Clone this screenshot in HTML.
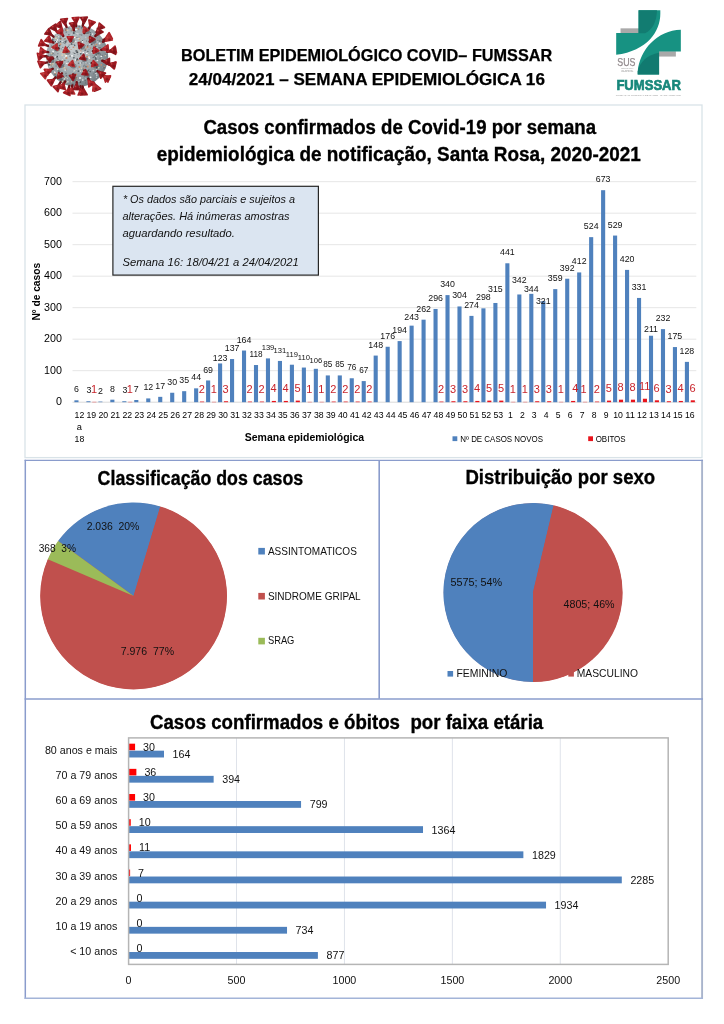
<!DOCTYPE html>
<html lang="pt-BR"><head><meta charset="utf-8"><title>Boletim Epidemiológico COVID – FUMSSAR</title>
<style>
html,body{margin:0;padding:0;background:#fff;}
svg{display:block;font-family:'Liberation Sans', sans-serif;}
svg text{font-family:"Liberation Sans",sans-serif;}
</style></head><body>
<svg width="724" height="1024" viewBox="0 0 724 1024">
<defs><radialGradient id="vg" cx="0.4" cy="0.38" r="0.7"><stop offset="0" stop-color="#c6cccf"/><stop offset="0.6" stop-color="#9ca6ab"/><stop offset="1" stop-color="#6b757a"/></radialGradient></defs>
<rect width="724" height="1024" fill="#fff"/>
<g id="header">
<text xml:space="preserve" x="181.0" y="61.3" font-size="16.1" font-weight="bold" textLength="371.3" lengthAdjust="spacingAndGlyphs" stroke="#000" stroke-width="0.25">BOLETIM EPIDEMIOLÓGICO COVID– FUMSSAR</text>
<text xml:space="preserve" x="188.8" y="84.8" font-size="16.1" font-weight="bold" textLength="356.1" lengthAdjust="spacingAndGlyphs" stroke="#000" stroke-width="0.25">24/04/2021 – SEMANA EPIDEMIOLÓGICA 16</text>
</g>
<g id="virus">
<circle cx="77.2" cy="56.2" r="31.0" fill="url(#vg)"/>
<circle cx="55.7" cy="62.8" r="0.70" fill="#454c51"/>
<circle cx="85.2" cy="45.8" r="0.71" fill="#8a9195"/>
<circle cx="67.4" cy="47.7" r="0.62" fill="#454c51"/>
<circle cx="100.0" cy="70.8" r="0.47" fill="#9aa5a9"/>
<circle cx="106.6" cy="52.9" r="0.86" fill="#9aa5a9"/>
<circle cx="63.3" cy="37.0" r="0.48" fill="#8a9195"/>
<circle cx="104.7" cy="62.5" r="0.47" fill="#ffffff"/>
<circle cx="57.8" cy="60.7" r="0.74" fill="#dccfae"/>
<circle cx="63.7" cy="39.8" r="0.50" fill="#9aa5a9"/>
<circle cx="66.4" cy="40.4" r="1.00" fill="#8a9195"/>
<circle cx="90.8" cy="34.9" r="0.87" fill="#565d62"/>
<circle cx="72.0" cy="55.8" r="0.87" fill="#ffffff"/>
<circle cx="54.8" cy="72.4" r="0.49" fill="#c98b6a"/>
<circle cx="101.9" cy="58.8" r="0.57" fill="#dccfae"/>
<circle cx="94.6" cy="45.2" r="0.68" fill="#c98b6a"/>
<circle cx="64.9" cy="50.8" r="0.60" fill="#9aa5a9"/>
<circle cx="92.0" cy="65.2" r="0.87" fill="#c98b6a"/>
<circle cx="88.2" cy="66.3" r="0.46" fill="#eef0f0"/>
<circle cx="56.7" cy="60.8" r="0.76" fill="#9aa5a9"/>
<circle cx="64.8" cy="60.5" r="0.68" fill="#6c7479"/>
<circle cx="63.1" cy="68.8" r="0.45" fill="#dccfae"/>
<circle cx="96.7" cy="33.8" r="0.62" fill="#ffffff"/>
<circle cx="87.5" cy="47.1" r="1.00" fill="#c98b6a"/>
<circle cx="58.9" cy="42.5" r="0.99" fill="#7d8589"/>
<circle cx="80.7" cy="71.1" r="0.63" fill="#ffffff"/>
<circle cx="74.9" cy="64.0" r="0.56" fill="#eef0f0"/>
<circle cx="74.8" cy="53.4" r="0.65" fill="#565d62"/>
<circle cx="49.0" cy="64.7" r="0.91" fill="#454c51"/>
<circle cx="89.5" cy="70.3" r="0.53" fill="#9aa5a9"/>
<circle cx="100.0" cy="41.4" r="0.85" fill="#dccfae"/>
<circle cx="90.2" cy="76.2" r="0.56" fill="#8a9195"/>
<circle cx="104.1" cy="47.5" r="0.49" fill="#ffffff"/>
<circle cx="86.7" cy="59.1" r="0.98" fill="#8a9195"/>
<circle cx="79.0" cy="81.4" r="0.68" fill="#c3c9cc"/>
<circle cx="94.6" cy="44.3" r="0.55" fill="#8a9195"/>
<circle cx="75.7" cy="48.5" r="0.71" fill="#dccfae"/>
<circle cx="63.8" cy="36.8" r="0.60" fill="#eef0f0"/>
<circle cx="89.0" cy="49.5" r="0.49" fill="#7d8589"/>
<circle cx="64.5" cy="64.1" r="0.55" fill="#7d8589"/>
<circle cx="61.8" cy="72.9" r="0.50" fill="#6c7479"/>
<circle cx="90.2" cy="71.6" r="0.81" fill="#565d62"/>
<circle cx="68.9" cy="34.8" r="0.77" fill="#6c7479"/>
<circle cx="95.6" cy="46.6" r="0.84" fill="#565d62"/>
<circle cx="81.5" cy="55.2" r="0.49" fill="#9aa5a9"/>
<circle cx="92.5" cy="63.1" r="1.00" fill="#6c7479"/>
<circle cx="97.0" cy="66.3" r="0.95" fill="#7d8589"/>
<circle cx="75.2" cy="31.1" r="0.64" fill="#565d62"/>
<circle cx="65.9" cy="30.0" r="0.97" fill="#c98b6a"/>
<circle cx="98.1" cy="60.2" r="0.79" fill="#7d8589"/>
<circle cx="60.2" cy="71.7" r="0.49" fill="#ffffff"/>
<circle cx="85.8" cy="61.7" r="0.93" fill="#c3c9cc"/>
<circle cx="74.6" cy="37.6" r="0.70" fill="#ffffff"/>
<circle cx="55.7" cy="61.3" r="0.86" fill="#8a9195"/>
<circle cx="100.1" cy="60.5" r="0.46" fill="#454c51"/>
<circle cx="86.9" cy="53.5" r="0.81" fill="#ffffff"/>
<circle cx="48.8" cy="58.6" r="0.62" fill="#565d62"/>
<circle cx="71.3" cy="44.0" r="0.86" fill="#6c7479"/>
<circle cx="61.3" cy="80.4" r="0.94" fill="#454c51"/>
<circle cx="65.8" cy="77.9" r="0.80" fill="#dccfae"/>
<circle cx="85.8" cy="31.6" r="0.93" fill="#dccfae"/>
<circle cx="60.0" cy="71.4" r="0.57" fill="#565d62"/>
<circle cx="89.0" cy="69.5" r="0.84" fill="#7d8589"/>
<circle cx="92.2" cy="51.3" r="0.51" fill="#6c7479"/>
<circle cx="48.7" cy="61.4" r="0.66" fill="#c98b6a"/>
<circle cx="52.7" cy="53.1" r="0.70" fill="#ffffff"/>
<circle cx="82.0" cy="58.6" r="0.47" fill="#ffffff"/>
<circle cx="71.4" cy="34.2" r="0.81" fill="#c3c9cc"/>
<circle cx="55.0" cy="46.8" r="0.70" fill="#c98b6a"/>
<circle cx="104.3" cy="60.4" r="0.88" fill="#dccfae"/>
<circle cx="85.9" cy="27.7" r="0.70" fill="#eef0f0"/>
<circle cx="60.5" cy="38.5" r="0.98" fill="#565d62"/>
<circle cx="71.8" cy="43.9" r="0.59" fill="#454c51"/>
<circle cx="71.4" cy="30.7" r="0.84" fill="#8a9195"/>
<circle cx="84.0" cy="70.4" r="0.75" fill="#565d62"/>
<circle cx="97.3" cy="49.2" r="0.67" fill="#6c7479"/>
<circle cx="84.7" cy="28.6" r="0.68" fill="#eef0f0"/>
<circle cx="91.8" cy="44.5" r="0.70" fill="#454c51"/>
<circle cx="57.0" cy="35.8" r="0.75" fill="#c98b6a"/>
<circle cx="65.0" cy="38.7" r="0.71" fill="#565d62"/>
<circle cx="69.3" cy="45.1" r="0.96" fill="#9aa5a9"/>
<circle cx="87.8" cy="66.6" r="0.99" fill="#c98b6a"/>
<circle cx="99.0" cy="53.1" r="0.59" fill="#565d62"/>
<circle cx="76.5" cy="52.5" r="0.50" fill="#8a9195"/>
<circle cx="56.4" cy="64.3" r="0.72" fill="#c3c9cc"/>
<circle cx="103.8" cy="61.0" r="0.69" fill="#eef0f0"/>
<circle cx="98.6" cy="61.0" r="0.88" fill="#9aa5a9"/>
<circle cx="84.6" cy="65.2" r="0.95" fill="#8a9195"/>
<circle cx="52.6" cy="53.4" r="0.97" fill="#454c51"/>
<circle cx="47.9" cy="57.6" r="0.87" fill="#eef0f0"/>
<circle cx="56.3" cy="64.6" r="0.80" fill="#8a9195"/>
<circle cx="49.9" cy="52.3" r="0.59" fill="#8a9195"/>
<circle cx="63.3" cy="30.3" r="0.56" fill="#ffffff"/>
<circle cx="94.7" cy="32.3" r="0.60" fill="#8a9195"/>
<circle cx="57.9" cy="56.5" r="0.73" fill="#eef0f0"/>
<circle cx="73.2" cy="53.1" r="0.73" fill="#7d8589"/>
<circle cx="55.4" cy="71.9" r="0.52" fill="#ffffff"/>
<circle cx="87.4" cy="63.0" r="0.70" fill="#8a9195"/>
<circle cx="100.8" cy="43.4" r="0.60" fill="#c98b6a"/>
<circle cx="66.6" cy="58.0" r="0.95" fill="#c98b6a"/>
<circle cx="103.7" cy="44.9" r="0.62" fill="#8a9195"/>
<circle cx="85.7" cy="78.3" r="0.52" fill="#c3c9cc"/>
<circle cx="78.0" cy="51.7" r="0.54" fill="#dccfae"/>
<circle cx="93.2" cy="57.4" r="0.58" fill="#565d62"/>
<circle cx="55.9" cy="56.4" r="0.52" fill="#ffffff"/>
<circle cx="62.2" cy="55.2" r="0.84" fill="#dccfae"/>
<circle cx="80.5" cy="53.0" r="0.68" fill="#9aa5a9"/>
<circle cx="65.4" cy="54.0" r="0.93" fill="#dccfae"/>
<circle cx="63.5" cy="53.2" r="0.92" fill="#dccfae"/>
<circle cx="55.9" cy="38.2" r="0.95" fill="#dccfae"/>
<circle cx="64.9" cy="43.4" r="0.62" fill="#6c7479"/>
<circle cx="65.7" cy="82.7" r="0.88" fill="#dccfae"/>
<circle cx="80.4" cy="65.0" r="0.52" fill="#dccfae"/>
<circle cx="93.1" cy="66.0" r="0.91" fill="#c98b6a"/>
<circle cx="53.6" cy="68.8" r="0.56" fill="#6c7479"/>
<circle cx="58.6" cy="36.8" r="0.56" fill="#eef0f0"/>
<circle cx="65.4" cy="30.0" r="0.51" fill="#565d62"/>
<circle cx="51.0" cy="55.3" r="1.00" fill="#8a9195"/>
<circle cx="90.6" cy="32.8" r="0.51" fill="#454c51"/>
<circle cx="98.9" cy="61.4" r="0.95" fill="#8a9195"/>
<circle cx="64.2" cy="57.7" r="0.56" fill="#eef0f0"/>
<circle cx="93.3" cy="31.0" r="0.50" fill="#9aa5a9"/>
<circle cx="104.3" cy="67.3" r="0.49" fill="#454c51"/>
<circle cx="92.6" cy="66.9" r="0.73" fill="#c98b6a"/>
<circle cx="56.1" cy="66.1" r="0.80" fill="#7d8589"/>
<circle cx="90.2" cy="59.6" r="0.70" fill="#c98b6a"/>
<circle cx="75.9" cy="37.1" r="0.78" fill="#dccfae"/>
<circle cx="99.4" cy="71.2" r="0.94" fill="#565d62"/>
<circle cx="85.3" cy="32.3" r="0.97" fill="#9aa5a9"/>
<circle cx="65.3" cy="50.6" r="0.99" fill="#ffffff"/>
<circle cx="82.4" cy="41.8" r="0.86" fill="#eef0f0"/>
<circle cx="81.9" cy="29.5" r="0.52" fill="#c98b6a"/>
<circle cx="66.6" cy="75.5" r="0.87" fill="#565d62"/>
<circle cx="79.0" cy="37.1" r="0.49" fill="#6c7479"/>
<circle cx="66.0" cy="73.5" r="0.94" fill="#7d8589"/>
<circle cx="105.7" cy="54.5" r="0.58" fill="#7d8589"/>
<circle cx="100.3" cy="47.8" r="0.57" fill="#565d62"/>
<circle cx="66.5" cy="63.3" r="0.66" fill="#eef0f0"/>
<circle cx="101.3" cy="56.2" r="0.87" fill="#eef0f0"/>
<circle cx="81.7" cy="55.6" r="0.51" fill="#ffffff"/>
<circle cx="78.8" cy="76.2" r="0.48" fill="#8a9195"/>
<circle cx="83.4" cy="73.6" r="0.59" fill="#eef0f0"/>
<circle cx="74.4" cy="73.5" r="0.73" fill="#8a9195"/>
<circle cx="99.4" cy="51.6" r="0.80" fill="#eef0f0"/>
<circle cx="80.2" cy="48.5" r="0.82" fill="#ffffff"/>
<circle cx="95.2" cy="51.0" r="0.66" fill="#6c7479"/>
<circle cx="104.5" cy="51.0" r="0.79" fill="#8a9195"/>
<circle cx="104.5" cy="66.7" r="0.61" fill="#c98b6a"/>
<circle cx="63.7" cy="66.2" r="0.61" fill="#8a9195"/>
<circle cx="64.6" cy="37.6" r="0.81" fill="#c3c9cc"/>
<circle cx="77.1" cy="51.3" r="0.77" fill="#dccfae"/>
<circle cx="64.3" cy="41.9" r="0.66" fill="#9aa5a9"/>
<circle cx="98.0" cy="40.6" r="0.77" fill="#7d8589"/>
<circle cx="74.3" cy="39.5" r="0.69" fill="#dccfae"/>
<circle cx="47.8" cy="60.4" r="0.47" fill="#dccfae"/>
<circle cx="99.2" cy="71.9" r="0.53" fill="#454c51"/>
<circle cx="91.6" cy="52.5" r="0.48" fill="#eef0f0"/>
<circle cx="68.2" cy="61.3" r="0.65" fill="#7d8589"/>
<circle cx="87.4" cy="71.2" r="0.82" fill="#6c7479"/>
<circle cx="62.4" cy="60.4" r="0.83" fill="#ffffff"/>
<circle cx="60.2" cy="75.8" r="0.97" fill="#6c7479"/>
<circle cx="75.8" cy="41.6" r="0.73" fill="#eef0f0"/>
<circle cx="69.5" cy="76.2" r="0.60" fill="#565d62"/>
<circle cx="57.5" cy="39.9" r="0.55" fill="#ffffff"/>
<circle cx="74.6" cy="70.7" r="0.73" fill="#dccfae"/>
<circle cx="69.6" cy="45.3" r="0.47" fill="#9aa5a9"/>
<circle cx="91.7" cy="62.0" r="0.46" fill="#c98b6a"/>
<circle cx="91.0" cy="59.6" r="0.49" fill="#c3c9cc"/>
<circle cx="98.4" cy="69.0" r="0.58" fill="#8a9195"/>
<circle cx="98.0" cy="53.8" r="0.57" fill="#565d62"/>
<circle cx="62.8" cy="77.8" r="0.89" fill="#eef0f0"/>
<circle cx="51.4" cy="65.1" r="0.69" fill="#dccfae"/>
<circle cx="76.9" cy="37.4" r="0.65" fill="#6c7479"/>
<circle cx="60.2" cy="31.6" r="0.61" fill="#565d62"/>
<circle cx="78.7" cy="28.9" r="0.69" fill="#6c7479"/>
<circle cx="70.8" cy="63.1" r="0.49" fill="#565d62"/>
<circle cx="96.8" cy="67.5" r="0.90" fill="#454c51"/>
<circle cx="50.6" cy="62.4" r="0.49" fill="#7d8589"/>
<circle cx="82.8" cy="80.0" r="0.83" fill="#eef0f0"/>
<circle cx="50.9" cy="57.1" r="0.61" fill="#565d62"/>
<circle cx="88.4" cy="70.3" r="0.65" fill="#565d62"/>
<circle cx="95.9" cy="73.2" r="0.78" fill="#ffffff"/>
<circle cx="97.6" cy="41.9" r="0.69" fill="#c3c9cc"/>
<circle cx="82.6" cy="40.5" r="0.57" fill="#565d62"/>
<circle cx="102.4" cy="51.0" r="0.59" fill="#8a9195"/>
<circle cx="65.5" cy="70.1" r="0.82" fill="#565d62"/>
<circle cx="54.1" cy="42.6" r="0.65" fill="#ffffff"/>
<circle cx="68.1" cy="63.7" r="0.76" fill="#ffffff"/>
<circle cx="88.9" cy="79.7" r="0.90" fill="#c3c9cc"/>
<circle cx="78.5" cy="63.3" r="0.76" fill="#6c7479"/>
<circle cx="100.9" cy="51.1" r="0.49" fill="#c98b6a"/>
<circle cx="51.7" cy="48.5" r="0.63" fill="#eef0f0"/>
<circle cx="75.8" cy="65.9" r="0.50" fill="#565d62"/>
<circle cx="69.6" cy="47.7" r="0.68" fill="#9aa5a9"/>
<circle cx="72.3" cy="35.8" r="0.64" fill="#8a9195"/>
<circle cx="60.0" cy="60.7" r="0.82" fill="#565d62"/>
<circle cx="55.2" cy="57.1" r="0.84" fill="#eef0f0"/>
<circle cx="93.8" cy="46.4" r="0.64" fill="#9aa5a9"/>
<circle cx="95.7" cy="56.6" r="0.94" fill="#eef0f0"/>
<circle cx="100.4" cy="49.9" r="0.65" fill="#8a9195"/>
<circle cx="87.1" cy="56.8" r="0.95" fill="#c98b6a"/>
<circle cx="77.5" cy="68.3" r="0.66" fill="#9aa5a9"/>
<circle cx="83.9" cy="68.0" r="0.74" fill="#c98b6a"/>
<circle cx="72.9" cy="84.2" r="0.62" fill="#454c51"/>
<circle cx="95.4" cy="72.2" r="0.95" fill="#6c7479"/>
<circle cx="77.3" cy="52.3" r="0.95" fill="#454c51"/>
<circle cx="86.9" cy="58.4" r="0.65" fill="#6c7479"/>
<circle cx="57.4" cy="43.9" r="0.78" fill="#454c51"/>
<circle cx="79.3" cy="69.0" r="0.67" fill="#c3c9cc"/>
<circle cx="101.8" cy="40.7" r="0.75" fill="#9aa5a9"/>
<circle cx="85.7" cy="37.2" r="0.72" fill="#c3c9cc"/>
<circle cx="53.1" cy="73.1" r="0.75" fill="#9aa5a9"/>
<circle cx="97.3" cy="50.6" r="0.67" fill="#dccfae"/>
<circle cx="79.4" cy="67.0" r="0.99" fill="#c98b6a"/>
<circle cx="84.5" cy="30.8" r="0.81" fill="#7d8589"/>
<circle cx="77.4" cy="59.3" r="0.95" fill="#454c51"/>
<circle cx="63.0" cy="60.8" r="0.78" fill="#c98b6a"/>
<circle cx="83.8" cy="66.1" r="0.53" fill="#565d62"/>
<circle cx="99.9" cy="41.4" r="0.80" fill="#6c7479"/>
<circle cx="92.7" cy="55.5" r="0.48" fill="#8a9195"/>
<circle cx="65.8" cy="50.7" r="0.90" fill="#dccfae"/>
<circle cx="92.7" cy="33.8" r="0.64" fill="#eef0f0"/>
<circle cx="60.8" cy="41.8" r="0.83" fill="#454c51"/>
<circle cx="99.8" cy="69.1" r="0.92" fill="#8a9195"/>
<circle cx="68.4" cy="81.4" r="0.56" fill="#c98b6a"/>
<circle cx="66.2" cy="32.0" r="0.56" fill="#454c51"/>
<circle cx="56.2" cy="50.3" r="0.97" fill="#6c7479"/>
<circle cx="93.7" cy="52.4" r="0.49" fill="#c98b6a"/>
<circle cx="70.2" cy="75.5" r="0.65" fill="#eef0f0"/>
<circle cx="73.4" cy="47.2" r="0.82" fill="#c98b6a"/>
<circle cx="76.6" cy="29.6" r="0.81" fill="#eef0f0"/>
<circle cx="95.6" cy="57.6" r="0.58" fill="#454c51"/>
<circle cx="58.5" cy="48.2" r="0.92" fill="#7d8589"/>
<circle cx="91.5" cy="35.1" r="0.53" fill="#ffffff"/>
<circle cx="57.0" cy="35.3" r="0.97" fill="#c3c9cc"/>
<circle cx="77.9" cy="33.8" r="0.59" fill="#eef0f0"/>
<circle cx="85.2" cy="80.7" r="0.62" fill="#565d62"/>
<circle cx="74.1" cy="76.6" r="0.63" fill="#9aa5a9"/>
<circle cx="81.4" cy="48.1" r="0.79" fill="#6c7479"/>
<circle cx="93.4" cy="73.8" r="0.55" fill="#6c7479"/>
<circle cx="54.7" cy="72.0" r="0.84" fill="#ffffff"/>
<circle cx="81.6" cy="59.4" r="0.69" fill="#eef0f0"/>
<circle cx="79.5" cy="38.8" r="0.96" fill="#c98b6a"/>
<circle cx="86.0" cy="66.7" r="0.90" fill="#6c7479"/>
<circle cx="64.1" cy="67.6" r="0.79" fill="#c98b6a"/>
<circle cx="73.8" cy="32.9" r="0.99" fill="#565d62"/>
<circle cx="83.2" cy="32.5" r="0.74" fill="#ffffff"/>
<circle cx="76.3" cy="69.2" r="0.81" fill="#c3c9cc"/>
<circle cx="91.7" cy="67.6" r="0.63" fill="#8a9195"/>
<circle cx="74.6" cy="65.5" r="0.59" fill="#6c7479"/>
<circle cx="61.3" cy="52.2" r="0.64" fill="#dccfae"/>
<circle cx="65.9" cy="56.2" r="0.99" fill="#dccfae"/>
<circle cx="51.9" cy="53.6" r="0.76" fill="#dccfae"/>
<circle cx="101.3" cy="60.3" r="0.52" fill="#eef0f0"/>
<circle cx="58.0" cy="58.9" r="0.63" fill="#565d62"/>
<circle cx="93.5" cy="48.4" r="0.94" fill="#454c51"/>
<circle cx="52.7" cy="63.8" r="0.95" fill="#dccfae"/>
<circle cx="55.5" cy="50.1" r="0.95" fill="#8a9195"/>
<circle cx="89.9" cy="78.8" r="0.78" fill="#565d62"/>
<circle cx="96.8" cy="75.2" r="0.83" fill="#c3c9cc"/>
<circle cx="60.1" cy="76.0" r="0.91" fill="#565d62"/>
<circle cx="86.0" cy="76.7" r="0.70" fill="#eef0f0"/>
<circle cx="55.3" cy="71.4" r="0.53" fill="#9aa5a9"/>
<circle cx="78.3" cy="28.5" r="0.79" fill="#c98b6a"/>
<circle cx="60.5" cy="35.9" r="0.56" fill="#6c7479"/>
<circle cx="66.1" cy="58.5" r="0.52" fill="#c98b6a"/>
<circle cx="62.7" cy="65.9" r="0.60" fill="#6c7479"/>
<circle cx="61.4" cy="49.0" r="0.88" fill="#9aa5a9"/>
<circle cx="72.5" cy="29.9" r="0.98" fill="#c98b6a"/>
<circle cx="60.5" cy="44.1" r="0.94" fill="#c98b6a"/>
<circle cx="96.5" cy="44.5" r="0.86" fill="#c98b6a"/>
<circle cx="47.3" cy="58.9" r="0.90" fill="#c98b6a"/>
<circle cx="84.7" cy="63.0" r="0.63" fill="#8a9195"/>
<circle cx="57.9" cy="53.7" r="0.63" fill="#7d8589"/>
<circle cx="101.3" cy="64.8" r="0.85" fill="#c98b6a"/>
<circle cx="55.9" cy="41.2" r="0.94" fill="#c3c9cc"/>
<circle cx="87.8" cy="45.8" r="0.58" fill="#454c51"/>
<circle cx="97.9" cy="35.0" r="0.83" fill="#454c51"/>
<circle cx="62.7" cy="53.8" r="0.81" fill="#c3c9cc"/>
<circle cx="103.4" cy="45.9" r="0.65" fill="#9aa5a9"/>
<circle cx="55.6" cy="49.7" r="0.57" fill="#6c7479"/>
<circle cx="76.7" cy="33.6" r="0.50" fill="#eef0f0"/>
<circle cx="80.0" cy="46.0" r="0.77" fill="#8a9195"/>
<circle cx="61.5" cy="60.9" r="0.46" fill="#c3c9cc"/>
<circle cx="86.6" cy="73.8" r="0.90" fill="#454c51"/>
<circle cx="62.9" cy="67.0" r="0.58" fill="#ffffff"/>
<circle cx="70.2" cy="75.2" r="0.62" fill="#565d62"/>
<circle cx="48.1" cy="56.5" r="0.93" fill="#454c51"/>
<circle cx="85.4" cy="82.8" r="0.56" fill="#7d8589"/>
<circle cx="86.6" cy="41.0" r="0.46" fill="#454c51"/>
<circle cx="60.6" cy="37.3" r="0.56" fill="#8a9195"/>
<circle cx="68.3" cy="46.5" r="0.81" fill="#7d8589"/>
<circle cx="67.8" cy="81.7" r="0.93" fill="#c3c9cc"/>
<circle cx="74.7" cy="45.5" r="0.68" fill="#454c51"/>
<circle cx="90.7" cy="80.6" r="0.84" fill="#eef0f0"/>
<circle cx="81.4" cy="68.3" r="0.73" fill="#dccfae"/>
<circle cx="72.8" cy="71.3" r="0.74" fill="#9aa5a9"/>
<circle cx="93.3" cy="70.6" r="0.94" fill="#c3c9cc"/>
<circle cx="83.2" cy="69.2" r="0.80" fill="#6c7479"/>
<circle cx="102.4" cy="72.2" r="0.95" fill="#454c51"/>
<circle cx="102.8" cy="69.0" r="0.78" fill="#7d8589"/>
<circle cx="74.0" cy="70.9" r="0.50" fill="#ffffff"/>
<circle cx="71.5" cy="81.7" r="0.55" fill="#dccfae"/>
<circle cx="76.7" cy="51.1" r="0.99" fill="#6c7479"/>
<circle cx="97.2" cy="60.5" r="0.66" fill="#ffffff"/>
<circle cx="96.4" cy="47.1" r="0.49" fill="#6c7479"/>
<circle cx="82.0" cy="27.9" r="0.81" fill="#565d62"/>
<circle cx="81.6" cy="35.0" r="0.90" fill="#8a9195"/>
<circle cx="57.4" cy="33.9" r="0.55" fill="#8a9195"/>
<circle cx="79.5" cy="44.2" r="0.69" fill="#ffffff"/>
<circle cx="66.3" cy="36.8" r="0.88" fill="#c3c9cc"/>
<circle cx="80.9" cy="42.1" r="0.75" fill="#454c51"/>
<circle cx="91.2" cy="37.5" r="0.47" fill="#c3c9cc"/>
<circle cx="56.3" cy="41.7" r="0.70" fill="#ffffff"/>
<circle cx="89.7" cy="44.5" r="0.46" fill="#ffffff"/>
<circle cx="57.4" cy="56.7" r="0.85" fill="#454c51"/>
<circle cx="80.5" cy="52.1" r="0.95" fill="#eef0f0"/>
<circle cx="57.1" cy="46.9" r="0.79" fill="#dccfae"/>
<circle cx="95.7" cy="62.7" r="0.90" fill="#565d62"/>
<circle cx="75.3" cy="29.7" r="0.72" fill="#ffffff"/>
<circle cx="64.6" cy="38.8" r="0.59" fill="#c98b6a"/>
<circle cx="90.6" cy="77.3" r="0.88" fill="#ffffff"/>
<circle cx="95.1" cy="63.4" r="0.83" fill="#565d62"/>
<circle cx="68.8" cy="28.0" r="0.72" fill="#6c7479"/>
<circle cx="79.3" cy="26.4" r="0.86" fill="#6c7479"/>
<circle cx="47.6" cy="52.1" r="0.58" fill="#7d8589"/>
<circle cx="85.9" cy="49.0" r="0.76" fill="#c98b6a"/>
<circle cx="48.6" cy="61.3" r="0.82" fill="#7d8589"/>
<circle cx="71.1" cy="27.1" r="0.58" fill="#ffffff"/>
<circle cx="76.7" cy="78.5" r="0.68" fill="#dccfae"/>
<circle cx="89.5" cy="63.6" r="0.64" fill="#c3c9cc"/>
<circle cx="100.5" cy="53.4" r="0.54" fill="#7d8589"/>
<circle cx="51.4" cy="40.9" r="0.76" fill="#565d62"/>
<circle cx="101.3" cy="41.3" r="0.70" fill="#6c7479"/>
<circle cx="55.6" cy="73.4" r="0.66" fill="#c98b6a"/>
<circle cx="95.7" cy="62.1" r="0.55" fill="#dccfae"/>
<circle cx="65.6" cy="52.5" r="0.67" fill="#dccfae"/>
<circle cx="55.4" cy="41.6" r="0.70" fill="#454c51"/>
<circle cx="102.0" cy="55.2" r="0.56" fill="#454c51"/>
<circle cx="71.2" cy="61.6" r="0.65" fill="#c3c9cc"/>
<circle cx="76.6" cy="60.2" r="0.86" fill="#6c7479"/>
<circle cx="54.6" cy="54.5" r="0.84" fill="#9aa5a9"/>
<circle cx="75.1" cy="74.1" r="0.85" fill="#6c7479"/>
<circle cx="79.1" cy="45.2" r="0.85" fill="#dccfae"/>
<circle cx="80.8" cy="53.8" r="0.91" fill="#565d62"/>
<circle cx="50.8" cy="64.8" r="0.63" fill="#c98b6a"/>
<circle cx="80.0" cy="34.7" r="0.62" fill="#7d8589"/>
<circle cx="60.8" cy="43.0" r="0.53" fill="#dccfae"/>
<circle cx="72.8" cy="53.2" r="0.68" fill="#c3c9cc"/>
<circle cx="52.4" cy="59.6" r="0.84" fill="#8a9195"/>
<circle cx="75.5" cy="81.8" r="0.66" fill="#9aa5a9"/>
<circle cx="97.2" cy="37.4" r="0.84" fill="#8a9195"/>
<circle cx="61.7" cy="66.7" r="0.57" fill="#565d62"/>
<circle cx="72.6" cy="73.2" r="0.53" fill="#dccfae"/>
<circle cx="92.2" cy="35.0" r="0.76" fill="#454c51"/>
<circle cx="87.9" cy="28.5" r="0.81" fill="#c3c9cc"/>
<circle cx="102.6" cy="67.5" r="0.83" fill="#8a9195"/>
<circle cx="62.5" cy="30.8" r="0.58" fill="#565d62"/>
<circle cx="71.1" cy="49.5" r="0.52" fill="#c98b6a"/>
<circle cx="56.2" cy="57.1" r="0.61" fill="#565d62"/>
<circle cx="73.1" cy="42.6" r="0.56" fill="#c98b6a"/>
<circle cx="79.2" cy="38.5" r="0.74" fill="#dccfae"/>
<circle cx="75.9" cy="27.6" r="0.71" fill="#6c7479"/>
<circle cx="76.0" cy="83.9" r="0.84" fill="#c3c9cc"/>
<circle cx="95.8" cy="58.9" r="0.95" fill="#565d62"/>
<circle cx="90.6" cy="48.0" r="0.72" fill="#c98b6a"/>
<circle cx="59.5" cy="45.6" r="0.94" fill="#565d62"/>
<circle cx="82.3" cy="58.7" r="0.94" fill="#565d62"/>
<circle cx="63.1" cy="50.0" r="0.94" fill="#9aa5a9"/>
<circle cx="65.5" cy="41.7" r="0.98" fill="#565d62"/>
<circle cx="62.4" cy="73.5" r="0.87" fill="#dccfae"/>
<circle cx="60.7" cy="39.2" r="0.79" fill="#c98b6a"/>
<circle cx="84.4" cy="59.3" r="0.93" fill="#454c51"/>
<circle cx="56.1" cy="75.6" r="0.89" fill="#7d8589"/>
<circle cx="70.8" cy="41.8" r="0.65" fill="#454c51"/>
<circle cx="88.7" cy="54.5" r="0.60" fill="#dccfae"/>
<circle cx="76.5" cy="70.3" r="0.45" fill="#8a9195"/>
<circle cx="59.0" cy="51.1" r="0.75" fill="#dccfae"/>
<circle cx="92.5" cy="34.8" r="0.79" fill="#eef0f0"/>
<circle cx="51.8" cy="46.0" r="0.60" fill="#565d62"/>
<circle cx="80.5" cy="58.7" r="0.83" fill="#dccfae"/>
<circle cx="65.7" cy="29.0" r="0.54" fill="#6c7479"/>
<circle cx="62.0" cy="41.6" r="0.61" fill="#ffffff"/>
<circle cx="61.5" cy="65.5" r="0.74" fill="#9aa5a9"/>
<circle cx="78.4" cy="71.2" r="0.84" fill="#565d62"/>
<circle cx="99.6" cy="43.4" r="0.99" fill="#eef0f0"/>
<circle cx="88.9" cy="30.4" r="0.51" fill="#c3c9cc"/>
<circle cx="52.0" cy="64.1" r="0.47" fill="#454c51"/>
<circle cx="63.2" cy="42.8" r="0.48" fill="#454c51"/>
<circle cx="76.7" cy="77.6" r="0.59" fill="#c98b6a"/>
<circle cx="65.1" cy="42.5" r="0.63" fill="#9aa5a9"/>
<circle cx="64.0" cy="78.8" r="0.91" fill="#ffffff"/>
<circle cx="59.4" cy="48.2" r="0.79" fill="#6c7479"/>
<circle cx="90.3" cy="32.7" r="0.56" fill="#6c7479"/>
<circle cx="65.4" cy="45.0" r="0.55" fill="#9aa5a9"/>
<circle cx="100.1" cy="58.2" r="0.60" fill="#6c7479"/>
<circle cx="75.2" cy="71.2" r="0.67" fill="#9aa5a9"/>
<circle cx="104.5" cy="44.0" r="0.54" fill="#7d8589"/>
<circle cx="105.3" cy="55.7" r="0.61" fill="#dccfae"/>
<circle cx="73.7" cy="26.4" r="0.67" fill="#eef0f0"/>
<circle cx="99.9" cy="40.7" r="0.54" fill="#454c51"/>
<circle cx="95.4" cy="64.4" r="0.61" fill="#9aa5a9"/>
<circle cx="58.8" cy="71.1" r="0.99" fill="#6c7479"/>
<circle cx="58.0" cy="72.2" r="0.61" fill="#8a9195"/>
<circle cx="90.6" cy="41.3" r="0.76" fill="#eef0f0"/>
<circle cx="99.7" cy="39.1" r="0.52" fill="#c98b6a"/>
<circle cx="75.3" cy="59.9" r="0.76" fill="#ffffff"/>
<circle cx="74.4" cy="75.0" r="0.58" fill="#565d62"/>
<circle cx="59.1" cy="58.2" r="0.76" fill="#c3c9cc"/>
<circle cx="78.7" cy="58.3" r="0.82" fill="#c3c9cc"/>
<circle cx="94.6" cy="56.6" r="1.00" fill="#6c7479"/>
<circle cx="85.5" cy="82.9" r="0.47" fill="#454c51"/>
<circle cx="63.8" cy="74.3" r="0.48" fill="#8a9195"/>
<circle cx="54.0" cy="48.6" r="0.59" fill="#ffffff"/>
<circle cx="83.3" cy="71.2" r="1.00" fill="#dccfae"/>
<circle cx="51.5" cy="65.8" r="0.55" fill="#7d8589"/>
<circle cx="89.4" cy="58.3" r="0.82" fill="#eef0f0"/>
<circle cx="76.6" cy="60.8" r="0.62" fill="#8a9195"/>
<circle cx="74.1" cy="55.9" r="0.49" fill="#dccfae"/>
<circle cx="59.8" cy="76.0" r="0.90" fill="#c3c9cc"/>
<circle cx="84.0" cy="31.3" r="0.62" fill="#c98b6a"/>
<circle cx="53.1" cy="51.4" r="0.96" fill="#eef0f0"/>
<circle cx="49.8" cy="59.3" r="0.59" fill="#c98b6a"/>
<circle cx="81.1" cy="53.7" r="0.53" fill="#ffffff"/>
<circle cx="65.8" cy="79.1" r="0.81" fill="#8a9195"/>
<circle cx="84.0" cy="39.3" r="0.70" fill="#9aa5a9"/>
<circle cx="74.2" cy="63.4" r="0.63" fill="#9aa5a9"/>
<circle cx="91.6" cy="65.9" r="0.57" fill="#6c7479"/>
<circle cx="76.3" cy="34.0" r="0.56" fill="#9aa5a9"/>
<circle cx="70.4" cy="65.9" r="0.64" fill="#565d62"/>
<circle cx="74.6" cy="57.4" r="0.48" fill="#8a9195"/>
<circle cx="101.5" cy="72.6" r="0.46" fill="#dccfae"/>
<circle cx="80.7" cy="63.1" r="0.51" fill="#ffffff"/>
<circle cx="96.9" cy="54.7" r="0.72" fill="#dccfae"/>
<circle cx="82.6" cy="28.4" r="0.49" fill="#c3c9cc"/>
<circle cx="55.0" cy="74.6" r="0.88" fill="#6c7479"/>
<circle cx="74.2" cy="55.7" r="0.81" fill="#9aa5a9"/>
<circle cx="83.2" cy="52.5" r="0.79" fill="#ffffff"/>
<circle cx="98.4" cy="38.1" r="0.68" fill="#9aa5a9"/>
<circle cx="105.6" cy="50.7" r="0.91" fill="#eef0f0"/>
<circle cx="69.7" cy="37.4" r="0.71" fill="#9aa5a9"/>
<circle cx="88.2" cy="38.0" r="0.78" fill="#c98b6a"/>
<circle cx="57.8" cy="46.7" r="0.74" fill="#7d8589"/>
<circle cx="61.9" cy="61.0" r="0.78" fill="#7d8589"/>
<circle cx="87.9" cy="51.3" r="0.63" fill="#454c51"/>
<circle cx="76.3" cy="79.9" r="0.86" fill="#dccfae"/>
<circle cx="96.2" cy="54.9" r="0.86" fill="#6c7479"/>
<circle cx="85.2" cy="50.2" r="0.91" fill="#6c7479"/>
<circle cx="60.0" cy="32.7" r="0.89" fill="#eef0f0"/>
<circle cx="47.3" cy="54.0" r="0.55" fill="#eef0f0"/>
<circle cx="94.3" cy="60.4" r="0.89" fill="#8a9195"/>
<circle cx="56.1" cy="62.5" r="0.56" fill="#c98b6a"/>
<circle cx="72.7" cy="79.9" r="0.51" fill="#eef0f0"/>
<circle cx="52.8" cy="65.8" r="0.49" fill="#dccfae"/>
<circle cx="70.1" cy="56.3" r="0.98" fill="#8a9195"/>
<circle cx="103.9" cy="67.9" r="0.55" fill="#565d62"/>
<circle cx="62.6" cy="81.3" r="0.91" fill="#dccfae"/>
<circle cx="86.7" cy="64.8" r="0.47" fill="#c98b6a"/>
<circle cx="68.7" cy="37.5" r="0.49" fill="#454c51"/>
<circle cx="90.8" cy="55.2" r="0.62" fill="#9aa5a9"/>
<circle cx="105.7" cy="48.3" r="0.82" fill="#8a9195"/>
<circle cx="73.8" cy="57.8" r="0.83" fill="#565d62"/>
<circle cx="93.6" cy="32.0" r="0.78" fill="#9aa5a9"/>
<circle cx="72.9" cy="44.2" r="0.54" fill="#6c7479"/>
<circle cx="71.9" cy="53.2" r="0.51" fill="#c3c9cc"/>
<circle cx="99.1" cy="47.7" r="0.62" fill="#565d62"/>
<circle cx="85.1" cy="56.6" r="0.85" fill="#dccfae"/>
<circle cx="66.5" cy="69.1" r="0.56" fill="#c98b6a"/>
<circle cx="91.2" cy="62.9" r="0.90" fill="#565d62"/>
<circle cx="60.1" cy="67.2" r="0.52" fill="#8a9195"/>
<circle cx="95.0" cy="68.3" r="0.58" fill="#c98b6a"/>
<circle cx="63.1" cy="48.5" r="0.97" fill="#c3c9cc"/>
<circle cx="98.6" cy="67.6" r="0.96" fill="#dccfae"/>
<circle cx="57.5" cy="73.0" r="0.57" fill="#ffffff"/>
<circle cx="65.6" cy="42.2" r="0.60" fill="#565d62"/>
<circle cx="49.8" cy="66.9" r="0.81" fill="#c3c9cc"/>
<circle cx="100.6" cy="58.1" r="0.68" fill="#7d8589"/>
<circle cx="96.4" cy="77.2" r="0.66" fill="#c3c9cc"/>
<circle cx="75.5" cy="65.7" r="0.51" fill="#ffffff"/>
<circle cx="66.1" cy="39.3" r="0.50" fill="#dccfae"/>
<circle cx="65.2" cy="70.1" r="0.82" fill="#ffffff"/>
<circle cx="61.4" cy="79.9" r="0.82" fill="#7d8589"/>
<circle cx="81.7" cy="62.9" r="0.71" fill="#6c7479"/>
<circle cx="67.3" cy="78.7" r="0.48" fill="#ffffff"/>
<circle cx="78.0" cy="60.5" r="0.69" fill="#c98b6a"/>
<circle cx="80.0" cy="78.1" r="1.00" fill="#eef0f0"/>
<circle cx="95.9" cy="64.5" r="0.88" fill="#c98b6a"/>
<circle cx="96.9" cy="47.2" r="0.57" fill="#ffffff"/>
<circle cx="69.4" cy="64.5" r="0.50" fill="#c98b6a"/>
<circle cx="77.7" cy="54.5" r="0.83" fill="#9aa5a9"/>
<circle cx="83.7" cy="28.3" r="0.90" fill="#9aa5a9"/>
<circle cx="74.0" cy="29.9" r="0.69" fill="#eef0f0"/>
<circle cx="87.4" cy="71.4" r="0.97" fill="#565d62"/>
<circle cx="80.9" cy="53.4" r="0.68" fill="#565d62"/>
<circle cx="49.7" cy="45.1" r="0.62" fill="#eef0f0"/>
<circle cx="66.6" cy="55.7" r="0.58" fill="#ffffff"/>
<circle cx="66.0" cy="37.9" r="0.61" fill="#c3c9cc"/>
<circle cx="79.8" cy="41.5" r="0.71" fill="#c98b6a"/>
<circle cx="100.2" cy="54.7" r="0.76" fill="#6c7479"/>
<circle cx="50.4" cy="63.2" r="0.90" fill="#eef0f0"/>
<circle cx="65.8" cy="55.9" r="0.74" fill="#ffffff"/>
<circle cx="57.6" cy="69.2" r="0.68" fill="#eef0f0"/>
<circle cx="89.0" cy="57.0" r="0.85" fill="#eef0f0"/>
<circle cx="74.4" cy="44.6" r="0.79" fill="#8a9195"/>
<circle cx="59.7" cy="68.1" r="0.80" fill="#8a9195"/>
<circle cx="80.9" cy="50.9" r="0.61" fill="#c98b6a"/>
<circle cx="82.1" cy="77.7" r="0.96" fill="#9aa5a9"/>
<circle cx="67.2" cy="74.7" r="1.00" fill="#9aa5a9"/>
<circle cx="66.8" cy="52.1" r="0.96" fill="#8a9195"/>
<circle cx="96.7" cy="69.8" r="0.86" fill="#c3c9cc"/>
<circle cx="76.3" cy="74.4" r="0.89" fill="#c98b6a"/>
<circle cx="59.1" cy="72.3" r="0.70" fill="#565d62"/>
<circle cx="103.4" cy="64.6" r="0.54" fill="#7d8589"/>
<circle cx="64.6" cy="67.7" r="0.82" fill="#dccfae"/>
<circle cx="76.0" cy="50.9" r="0.72" fill="#565d62"/>
<circle cx="80.4" cy="82.0" r="0.85" fill="#454c51"/>
<circle cx="61.0" cy="72.7" r="0.45" fill="#eef0f0"/>
<circle cx="52.7" cy="39.9" r="0.98" fill="#565d62"/>
<circle cx="67.7" cy="30.3" r="0.79" fill="#dccfae"/>
<circle cx="62.9" cy="47.2" r="0.51" fill="#454c51"/>
<circle cx="78.1" cy="38.6" r="0.57" fill="#eef0f0"/>
<line x1="72.3" y1="85.5" x2="71.3" y2="91.8" stroke="#6d1116" stroke-width="2.4" stroke-linecap="round"/>
<polygon points="71.5,87.9 74.6,93.9 67.8,93.5" fill="#b52d30" stroke="#b52d30" stroke-width="1.7" stroke-linejoin="round"/>
<circle cx="72.2" cy="92.9" r="1.3" fill="#6d1116" opacity="0.55"/>
<circle cx="70.1" cy="90.5" r="0.9" fill="#cf4a48" opacity="0.75"/>
<line x1="58.0" y1="32.7" x2="53.9" y2="27.7" stroke="#6d1116" stroke-width="2.4" stroke-linecap="round"/>
<polygon points="56.2,30.9 50.0,28.0 55.6,24.1" fill="#8f181f" stroke="#8f181f" stroke-width="1.7" stroke-linejoin="round"/>
<circle cx="54.8" cy="28.8" r="1.3" fill="#6d1116" opacity="0.55"/>
<circle cx="52.7" cy="26.4" r="0.9" fill="#cf4a48" opacity="0.75"/>
<line x1="107.4" y1="51.1" x2="113.8" y2="50.0" stroke="#6d1116" stroke-width="2.4" stroke-linecap="round"/>
<polygon points="110.0,50.8 115.0,46.2 116.4,52.8" fill="#b0252b" stroke="#b0252b" stroke-width="1.7" stroke-linejoin="round"/>
<circle cx="114.7" cy="51.1" r="1.3" fill="#6d1116" opacity="0.55"/>
<circle cx="112.6" cy="48.7" r="0.9" fill="#cf4a48" opacity="0.75"/>
<line x1="107.0" y1="63.2" x2="113.4" y2="64.7" stroke="#6d1116" stroke-width="2.4" stroke-linecap="round"/>
<polygon points="109.6,63.7 116.1,62.0 114.4,68.5" fill="#b0252b" stroke="#b0252b" stroke-width="1.7" stroke-linejoin="round"/>
<circle cx="114.3" cy="65.8" r="1.3" fill="#6d1116" opacity="0.55"/>
<circle cx="112.2" cy="63.4" r="0.9" fill="#cf4a48" opacity="0.75"/>
<line x1="46.6" y1="56.3" x2="40.0" y2="56.3" stroke="#6d1116" stroke-width="2.4" stroke-linecap="round"/>
<polygon points="43.8,55.5 38.8,60.0 37.4,53.4" fill="#a51e25" stroke="#a51e25" stroke-width="1.7" stroke-linejoin="round"/>
<circle cx="40.9" cy="57.4" r="1.3" fill="#6d1116" opacity="0.55"/>
<circle cx="38.8" cy="55.0" r="0.9" fill="#cf4a48" opacity="0.75"/>
<line x1="82.6" y1="86.4" x2="83.7" y2="92.8" stroke="#6d1116" stroke-width="2.4" stroke-linecap="round"/>
<polygon points="83.7,88.9 87.1,94.7 80.4,94.8" fill="#9a1a21" stroke="#9a1a21" stroke-width="1.7" stroke-linejoin="round"/>
<circle cx="84.6" cy="93.9" r="1.3" fill="#6d1116" opacity="0.55"/>
<circle cx="82.5" cy="91.5" r="0.9" fill="#cf4a48" opacity="0.75"/>
<line x1="102.1" y1="74.3" x2="107.4" y2="78.2" stroke="#6d1116" stroke-width="2.4" stroke-linecap="round"/>
<polygon points="103.8,76.7 110.5,75.8 107.9,82.0" fill="#b0252b" stroke="#b0252b" stroke-width="1.7" stroke-linejoin="round"/>
<circle cx="108.3" cy="79.3" r="1.3" fill="#6d1116" opacity="0.55"/>
<circle cx="106.2" cy="76.9" r="0.9" fill="#cf4a48" opacity="0.75"/>
<line x1="93.3" y1="82.5" x2="96.8" y2="88.0" stroke="#6d1116" stroke-width="2.4" stroke-linecap="round"/>
<polygon points="95.3,84.4 100.6,88.6 94.4,91.1" fill="#9a1a21" stroke="#9a1a21" stroke-width="1.7" stroke-linejoin="round"/>
<circle cx="97.7" cy="89.1" r="1.3" fill="#6d1116" opacity="0.55"/>
<circle cx="95.6" cy="86.7" r="0.9" fill="#cf4a48" opacity="0.75"/>
<line x1="103.4" y1="40.0" x2="109.0" y2="36.5" stroke="#6d1116" stroke-width="2.4" stroke-linecap="round"/>
<polygon points="105.5,38.3 109.1,32.6 112.3,38.6" fill="#b0252b" stroke="#b0252b" stroke-width="1.7" stroke-linejoin="round"/>
<circle cx="109.9" cy="37.6" r="1.3" fill="#6d1116" opacity="0.55"/>
<circle cx="107.8" cy="35.2" r="0.9" fill="#cf4a48" opacity="0.75"/>
<line x1="60.6" y1="82.2" x2="57.1" y2="87.8" stroke="#6d1116" stroke-width="2.4" stroke-linecap="round"/>
<polygon points="59.9,85.1 58.0,91.6 53.3,86.6" fill="#a51e25" stroke="#a51e25" stroke-width="1.7" stroke-linejoin="round"/>
<circle cx="58.0" cy="88.9" r="1.3" fill="#6d1116" opacity="0.55"/>
<circle cx="55.9" cy="86.5" r="0.9" fill="#cf4a48" opacity="0.75"/>
<line x1="82.8" y1="25.8" x2="84.0" y2="19.3" stroke="#6d1116" stroke-width="2.4" stroke-linecap="round"/>
<polygon points="84.2,23.2 80.6,17.5 87.3,17.2" fill="#8f181f" stroke="#8f181f" stroke-width="1.7" stroke-linejoin="round"/>
<circle cx="84.9" cy="20.4" r="1.3" fill="#6d1116" opacity="0.55"/>
<circle cx="82.8" cy="18.0" r="0.9" fill="#cf4a48" opacity="0.75"/>
<line x1="50.3" y1="71.5" x2="44.5" y2="74.8" stroke="#6d1116" stroke-width="2.4" stroke-linecap="round"/>
<polygon points="47.5,72.2 45.3,78.6 40.8,73.5" fill="#b52d30" stroke="#b52d30" stroke-width="1.7" stroke-linejoin="round"/>
<circle cx="45.4" cy="75.9" r="1.3" fill="#6d1116" opacity="0.55"/>
<circle cx="43.3" cy="73.5" r="0.9" fill="#cf4a48" opacity="0.75"/>
<line x1="66.6" y1="27.1" x2="64.3" y2="20.9" stroke="#6d1116" stroke-width="2.4" stroke-linecap="round"/>
<polygon points="64.9,24.8 60.7,19.4 67.4,18.5" fill="#9a1a21" stroke="#9a1a21" stroke-width="1.7" stroke-linejoin="round"/>
<circle cx="65.2" cy="22.0" r="1.3" fill="#6d1116" opacity="0.55"/>
<circle cx="63.1" cy="19.6" r="0.9" fill="#cf4a48" opacity="0.75"/>
<line x1="48.0" y1="45.8" x2="41.8" y2="43.6" stroke="#6d1116" stroke-width="2.4" stroke-linecap="round"/>
<polygon points="45.4,45.1 38.7,45.9 41.3,39.7" fill="#a51e25" stroke="#a51e25" stroke-width="1.7" stroke-linejoin="round"/>
<circle cx="42.7" cy="44.7" r="1.3" fill="#6d1116" opacity="0.55"/>
<circle cx="40.6" cy="42.3" r="0.9" fill="#cf4a48" opacity="0.75"/>
<line x1="96.5" y1="32.0" x2="100.6" y2="26.8" stroke="#6d1116" stroke-width="2.4" stroke-linecap="round"/>
<polygon points="98.0,29.8 99.3,23.1 104.4,27.5" fill="#9a1a21" stroke="#9a1a21" stroke-width="1.7" stroke-linejoin="round"/>
<circle cx="101.5" cy="27.9" r="1.3" fill="#6d1116" opacity="0.55"/>
<circle cx="99.4" cy="25.5" r="0.9" fill="#cf4a48" opacity="0.75"/>
<line x1="69.3" y1="86.0" x2="67.6" y2="92.3" stroke="#6d1116" stroke-width="2.4" stroke-linecap="round"/>
<polygon points="69.2,88.7 69.9,95.5 63.7,92.7" fill="#a51e25" stroke="#a51e25" stroke-width="1.7" stroke-linejoin="round"/>
<circle cx="68.5" cy="93.4" r="1.3" fill="#6d1116" opacity="0.55"/>
<circle cx="66.4" cy="91.0" r="0.9" fill="#cf4a48" opacity="0.75"/>
<line x1="53.5" y1="36.7" x2="48.5" y2="32.5" stroke="#6d1116" stroke-width="2.4" stroke-linecap="round"/>
<polygon points="51.6,34.9 44.9,34.0 49.0,28.6" fill="#8f181f" stroke="#8f181f" stroke-width="1.7" stroke-linejoin="round"/>
<circle cx="49.4" cy="33.6" r="1.3" fill="#6d1116" opacity="0.55"/>
<circle cx="47.3" cy="31.2" r="0.9" fill="#cf4a48" opacity="0.75"/>
<line x1="47.3" y1="62.4" x2="41.0" y2="63.8" stroke="#6d1116" stroke-width="2.4" stroke-linecap="round"/>
<polygon points="44.6,62.4 40.4,67.6 37.9,61.3" fill="#a51e25" stroke="#a51e25" stroke-width="1.7" stroke-linejoin="round"/>
<circle cx="41.9" cy="64.9" r="1.3" fill="#6d1116" opacity="0.55"/>
<circle cx="39.8" cy="62.5" r="0.9" fill="#cf4a48" opacity="0.75"/>
<line x1="76.1" y1="26.0" x2="75.8" y2="19.5" stroke="#6d1116" stroke-width="2.4" stroke-linecap="round"/>
<polygon points="76.1,23.4 72.3,17.8 79.1,17.3" fill="#a51e25" stroke="#a51e25" stroke-width="1.7" stroke-linejoin="round"/>
<circle cx="76.7" cy="20.6" r="1.3" fill="#6d1116" opacity="0.55"/>
<circle cx="74.6" cy="18.2" r="0.9" fill="#cf4a48" opacity="0.75"/>
<line x1="106.6" y1="63.6" x2="112.8" y2="65.1" stroke="#6d1116" stroke-width="2.4" stroke-linecap="round"/>
<polygon points="109.0,64.4 115.3,62.2 114.1,68.8" fill="#9a1a21" stroke="#9a1a21" stroke-width="1.7" stroke-linejoin="round"/>
<circle cx="113.7" cy="66.2" r="1.3" fill="#6d1116" opacity="0.55"/>
<circle cx="111.6" cy="63.8" r="0.9" fill="#cf4a48" opacity="0.75"/>
<line x1="107.1" y1="51.9" x2="113.5" y2="51.0" stroke="#6d1116" stroke-width="2.4" stroke-linecap="round"/>
<polygon points="109.6,51.2 115.3,47.5 115.6,54.3" fill="#8f181f" stroke="#8f181f" stroke-width="1.7" stroke-linejoin="round"/>
<circle cx="114.4" cy="52.1" r="1.3" fill="#6d1116" opacity="0.55"/>
<circle cx="112.3" cy="49.7" r="0.9" fill="#cf4a48" opacity="0.75"/>
<line x1="80.5" y1="86.2" x2="81.3" y2="92.6" stroke="#6d1116" stroke-width="2.4" stroke-linecap="round"/>
<polygon points="80.7,88.7 84.9,94.0 78.2,95.0" fill="#a51e25" stroke="#a51e25" stroke-width="1.7" stroke-linejoin="round"/>
<circle cx="82.2" cy="93.7" r="1.3" fill="#6d1116" opacity="0.55"/>
<circle cx="80.1" cy="91.3" r="0.9" fill="#cf4a48" opacity="0.75"/>
<line x1="55.7" y1="77.3" x2="51.1" y2="81.8" stroke="#6d1116" stroke-width="2.4" stroke-linecap="round"/>
<polygon points="54.3,79.6 51.4,85.7 47.5,80.2" fill="#a51e25" stroke="#a51e25" stroke-width="1.7" stroke-linejoin="round"/>
<circle cx="52.0" cy="82.9" r="1.3" fill="#6d1116" opacity="0.55"/>
<circle cx="49.9" cy="80.5" r="0.9" fill="#cf4a48" opacity="0.75"/>
<line x1="101.2" y1="74.3" x2="106.3" y2="78.1" stroke="#6d1116" stroke-width="2.4" stroke-linecap="round"/>
<polygon points="103.4,75.5 110.0,76.9 105.5,82.0" fill="#b0252b" stroke="#b0252b" stroke-width="1.7" stroke-linejoin="round"/>
<circle cx="107.2" cy="79.2" r="1.3" fill="#6d1116" opacity="0.55"/>
<circle cx="105.1" cy="76.8" r="0.9" fill="#cf4a48" opacity="0.75"/>
<line x1="91.9" y1="82.2" x2="95.1" y2="87.8" stroke="#6d1116" stroke-width="2.4" stroke-linecap="round"/>
<polygon points="93.5,84.2 99.0,88.2 92.8,90.9" fill="#b52d30" stroke="#b52d30" stroke-width="1.7" stroke-linejoin="round"/>
<circle cx="96.0" cy="88.9" r="1.3" fill="#6d1116" opacity="0.55"/>
<circle cx="93.9" cy="86.5" r="0.9" fill="#cf4a48" opacity="0.75"/>
<line x1="88.9" y1="28.8" x2="91.4" y2="23.0" stroke="#6d1116" stroke-width="2.4" stroke-linecap="round"/>
<polygon points="90.0,26.7 88.9,20.0 95.2,22.3" fill="#a51e25" stroke="#a51e25" stroke-width="1.7" stroke-linejoin="round"/>
<circle cx="92.3" cy="24.1" r="1.3" fill="#6d1116" opacity="0.55"/>
<circle cx="90.2" cy="21.7" r="0.9" fill="#cf4a48" opacity="0.75"/>
<line x1="103.1" y1="41.8" x2="108.6" y2="38.7" stroke="#6d1116" stroke-width="2.4" stroke-linecap="round"/>
<polygon points="105.6,41.2 107.9,34.8 112.3,40.0" fill="#b52d30" stroke="#b52d30" stroke-width="1.7" stroke-linejoin="round"/>
<circle cx="109.5" cy="39.8" r="1.3" fill="#6d1116" opacity="0.55"/>
<circle cx="107.4" cy="37.4" r="0.9" fill="#cf4a48" opacity="0.75"/>
<line x1="62.4" y1="30.6" x2="59.2" y2="25.2" stroke="#6d1116" stroke-width="2.4" stroke-linecap="round"/>
<polygon points="61.8,28.1 55.4,26.0 60.4,21.5" fill="#9a1a21" stroke="#9a1a21" stroke-width="1.7" stroke-linejoin="round"/>
<circle cx="60.1" cy="26.3" r="1.3" fill="#6d1116" opacity="0.55"/>
<circle cx="58.0" cy="23.9" r="0.9" fill="#cf4a48" opacity="0.75"/>
<line x1="48.3" y1="52.1" x2="42.2" y2="51.3" stroke="#6d1116" stroke-width="2.4" stroke-linecap="round"/>
<polygon points="46.0,51.9 39.7,54.3 40.8,47.6" fill="#b0252b" stroke="#b0252b" stroke-width="1.7" stroke-linejoin="round"/>
<circle cx="43.1" cy="52.4" r="1.3" fill="#6d1116" opacity="0.55"/>
<circle cx="41.0" cy="50.0" r="0.9" fill="#cf4a48" opacity="0.75"/>
<line x1="65.1" y1="81.4" x2="62.5" y2="86.7" stroke="#6d1116" stroke-width="2.4" stroke-linecap="round"/>
<polygon points="63.6,83.0 65.2,89.5 58.7,87.7" fill="#a51e25" stroke="#a51e25" stroke-width="1.7" stroke-linejoin="round"/>
<circle cx="63.4" cy="87.8" r="1.3" fill="#6d1116" opacity="0.55"/>
<circle cx="61.3" cy="85.4" r="0.9" fill="#cf4a48" opacity="0.75"/>
<line x1="52.8" y1="68.8" x2="47.6" y2="71.5" stroke="#6d1116" stroke-width="2.4" stroke-linecap="round"/>
<polygon points="51.0,69.6 47.4,75.4 44.3,69.4" fill="#b0252b" stroke="#b0252b" stroke-width="1.7" stroke-linejoin="round"/>
<circle cx="48.5" cy="72.6" r="1.3" fill="#6d1116" opacity="0.55"/>
<circle cx="46.4" cy="70.2" r="0.9" fill="#cf4a48" opacity="0.75"/>
<line x1="53.5" y1="42.6" x2="48.4" y2="39.7" stroke="#6d1116" stroke-width="2.4" stroke-linecap="round"/>
<polygon points="51.4,42.3 44.7,41.0 49.2,35.9" fill="#a51e25" stroke="#a51e25" stroke-width="1.7" stroke-linejoin="round"/>
<circle cx="49.3" cy="40.8" r="1.3" fill="#6d1116" opacity="0.55"/>
<circle cx="47.2" cy="38.4" r="0.9" fill="#cf4a48" opacity="0.75"/>
<line x1="95.3" y1="36.1" x2="99.1" y2="31.8" stroke="#6d1116" stroke-width="2.4" stroke-linecap="round"/>
<polygon points="97.0,35.1 97.4,28.3 103.0,32.0" fill="#8f181f" stroke="#8f181f" stroke-width="1.7" stroke-linejoin="round"/>
<circle cx="100.0" cy="32.9" r="1.3" fill="#6d1116" opacity="0.55"/>
<circle cx="97.9" cy="30.5" r="0.9" fill="#cf4a48" opacity="0.75"/>
<line x1="73.9" y1="30.3" x2="73.2" y2="24.8" stroke="#6d1116" stroke-width="2.4" stroke-linecap="round"/>
<polygon points="73.7,28.7 69.6,23.3 76.3,22.4" fill="#8f181f" stroke="#8f181f" stroke-width="1.7" stroke-linejoin="round"/>
<circle cx="74.1" cy="25.9" r="1.3" fill="#6d1116" opacity="0.55"/>
<circle cx="72.0" cy="23.5" r="0.9" fill="#cf4a48" opacity="0.75"/>
<line x1="76.7" y1="82.1" x2="76.6" y2="87.6" stroke="#6d1116" stroke-width="2.4" stroke-linecap="round"/>
<polygon points="76.7,83.7 79.9,89.6 73.2,89.4" fill="#8f181f" stroke="#8f181f" stroke-width="1.7" stroke-linejoin="round"/>
<circle cx="77.5" cy="88.7" r="1.3" fill="#6d1116" opacity="0.55"/>
<circle cx="75.4" cy="86.3" r="0.9" fill="#cf4a48" opacity="0.75"/>
<line x1="102.2" y1="60.8" x2="107.5" y2="61.8" stroke="#6d1116" stroke-width="2.4" stroke-linecap="round"/>
<polygon points="103.6,61.9 109.4,58.4 109.5,65.2" fill="#8f181f" stroke="#8f181f" stroke-width="1.7" stroke-linejoin="round"/>
<circle cx="108.4" cy="62.9" r="1.3" fill="#6d1116" opacity="0.55"/>
<circle cx="106.3" cy="60.5" r="0.9" fill="#cf4a48" opacity="0.75"/>
<line x1="97.4" y1="71.1" x2="101.7" y2="74.3" stroke="#6d1116" stroke-width="2.4" stroke-linecap="round"/>
<polygon points="98.9,71.6 105.4,73.2 100.7,78.1" fill="#9a1a21" stroke="#9a1a21" stroke-width="1.7" stroke-linejoin="round"/>
<circle cx="102.6" cy="75.4" r="1.3" fill="#6d1116" opacity="0.55"/>
<circle cx="100.5" cy="73.0" r="0.9" fill="#cf4a48" opacity="0.75"/>
<line x1="88.2" y1="78.6" x2="90.6" y2="83.3" stroke="#6d1116" stroke-width="2.4" stroke-linecap="round"/>
<polygon points="88.3,80.1 94.5,83.0 88.9,86.9" fill="#b0252b" stroke="#b0252b" stroke-width="1.7" stroke-linejoin="round"/>
<circle cx="91.5" cy="84.4" r="1.3" fill="#6d1116" opacity="0.55"/>
<circle cx="89.4" cy="82.0" r="0.9" fill="#cf4a48" opacity="0.75"/>
<line x1="101.2" y1="49.8" x2="106.3" y2="48.5" stroke="#6d1116" stroke-width="2.4" stroke-linecap="round"/>
<polygon points="102.4,48.9 107.9,44.9 108.5,51.7" fill="#b0252b" stroke="#b0252b" stroke-width="1.7" stroke-linejoin="round"/>
<circle cx="107.2" cy="49.6" r="1.3" fill="#6d1116" opacity="0.55"/>
<circle cx="105.1" cy="47.2" r="0.9" fill="#cf4a48" opacity="0.75"/>
<line x1="63.3" y1="36.0" x2="60.3" y2="31.8" stroke="#6d1116" stroke-width="2.4" stroke-linecap="round"/>
<polygon points="62.7,34.8 56.5,32.3 61.8,28.1" fill="#b0252b" stroke="#b0252b" stroke-width="1.7" stroke-linejoin="round"/>
<circle cx="61.2" cy="32.9" r="1.3" fill="#6d1116" opacity="0.55"/>
<circle cx="59.1" cy="30.5" r="0.9" fill="#cf4a48" opacity="0.75"/>
<ellipse cx="86.8" cy="31.7" rx="3.0" ry="2.4" fill="#3b4146" opacity="0.45"/>
<line x1="84.2" y1="33.1" x2="85.2" y2="29.7" stroke="#6d1116" stroke-width="2.4" stroke-linecap="round"/>
<polygon points="83.8,26.6 88.6,30.1 83.2,32.5" fill="#b52d30" stroke="#b52d30" stroke-width="1.7" stroke-linejoin="round"/>
<circle cx="86.1" cy="30.8" r="1.3" fill="#6d1116" opacity="0.55"/>
<circle cx="84.0" cy="28.4" r="0.9" fill="#cf4a48" opacity="0.75"/>
<ellipse cx="51.3" cy="60.9" rx="3.0" ry="2.4" fill="#3b4146" opacity="0.45"/>
<line x1="53.2" y1="58.5" x2="49.7" y2="58.9" stroke="#6d1116" stroke-width="2.4" stroke-linecap="round"/>
<polygon points="46.7,57.3 52.6,57.0 49.9,62.2" fill="#8f181f" stroke="#8f181f" stroke-width="1.7" stroke-linejoin="round"/>
<circle cx="50.6" cy="60.0" r="1.3" fill="#6d1116" opacity="0.55"/>
<circle cx="48.5" cy="57.6" r="0.9" fill="#cf4a48" opacity="0.75"/>
<ellipse cx="61.4" cy="77.8" rx="3.0" ry="2.4" fill="#3b4146" opacity="0.45"/>
<line x1="62.0" y1="73.3" x2="59.8" y2="75.8" stroke="#6d1116" stroke-width="2.4" stroke-linecap="round"/>
<polygon points="57.6,78.4 58.5,72.6 63.1,76.3" fill="#8f181f" stroke="#8f181f" stroke-width="1.7" stroke-linejoin="round"/>
<circle cx="60.7" cy="76.9" r="1.3" fill="#6d1116" opacity="0.55"/>
<circle cx="58.6" cy="74.5" r="0.9" fill="#cf4a48" opacity="0.75"/>
<ellipse cx="57.1" cy="49.1" rx="3.0" ry="2.4" fill="#3b4146" opacity="0.45"/>
<line x1="58.3" y1="48.3" x2="55.5" y2="47.1" stroke="#6d1116" stroke-width="2.4" stroke-linecap="round"/>
<polygon points="57.6,49.9 52.2,47.5 56.9,44.0" fill="#b52d30" stroke="#b52d30" stroke-width="1.7" stroke-linejoin="round"/>
<circle cx="56.4" cy="48.2" r="1.3" fill="#6d1116" opacity="0.55"/>
<circle cx="54.3" cy="45.8" r="0.9" fill="#cf4a48" opacity="0.75"/>
<ellipse cx="93.1" cy="41.4" rx="3.0" ry="2.4" fill="#3b4146" opacity="0.45"/>
<line x1="89.6" y1="41.5" x2="91.5" y2="39.4" stroke="#6d1116" stroke-width="2.4" stroke-linecap="round"/>
<polygon points="89.9,42.4 89.7,36.5 94.9,39.3" fill="#8f181f" stroke="#8f181f" stroke-width="1.7" stroke-linejoin="round"/>
<circle cx="92.4" cy="40.5" r="1.3" fill="#6d1116" opacity="0.55"/>
<circle cx="90.3" cy="38.1" r="0.9" fill="#cf4a48" opacity="0.75"/>
<ellipse cx="74.2" cy="78.9" rx="3.0" ry="2.4" fill="#3b4146" opacity="0.45"/>
<line x1="73.2" y1="74.3" x2="72.6" y2="76.9" stroke="#6d1116" stroke-width="2.4" stroke-linecap="round"/>
<polygon points="73.0,80.3 69.5,75.5 75.4,74.9" fill="#8f181f" stroke="#8f181f" stroke-width="1.7" stroke-linejoin="round"/>
<circle cx="73.5" cy="78.0" r="1.3" fill="#6d1116" opacity="0.55"/>
<circle cx="71.4" cy="75.6" r="0.9" fill="#cf4a48" opacity="0.75"/>
<ellipse cx="97.0" cy="52.3" rx="3.0" ry="2.4" fill="#3b4146" opacity="0.45"/>
<line x1="93.1" y1="51.1" x2="95.4" y2="50.3" stroke="#6d1116" stroke-width="2.4" stroke-linecap="round"/>
<polygon points="93.4,53.1 94.0,47.2 98.8,50.7" fill="#b0252b" stroke="#b0252b" stroke-width="1.7" stroke-linejoin="round"/>
<circle cx="96.3" cy="51.4" r="1.3" fill="#6d1116" opacity="0.55"/>
<circle cx="94.2" cy="49.0" r="0.9" fill="#cf4a48" opacity="0.75"/>
<ellipse cx="61.2" cy="65.7" rx="3.0" ry="2.4" fill="#3b4146" opacity="0.45"/>
<line x1="61.9" y1="62.8" x2="59.6" y2="63.7" stroke="#6d1116" stroke-width="2.4" stroke-linecap="round"/>
<polygon points="56.6,62.2 62.5,61.9 59.8,67.1" fill="#8f181f" stroke="#8f181f" stroke-width="1.7" stroke-linejoin="round"/>
<circle cx="60.5" cy="64.8" r="1.3" fill="#6d1116" opacity="0.55"/>
<circle cx="58.4" cy="62.4" r="0.9" fill="#cf4a48" opacity="0.75"/>
<ellipse cx="71.8" cy="40.5" rx="3.0" ry="2.4" fill="#3b4146" opacity="0.45"/>
<line x1="71.1" y1="40.8" x2="70.2" y2="38.5" stroke="#6d1116" stroke-width="2.4" stroke-linecap="round"/>
<polygon points="73.2,36.9 70.1,41.9 67.3,36.8" fill="#b0252b" stroke="#b0252b" stroke-width="1.7" stroke-linejoin="round"/>
<circle cx="71.1" cy="39.6" r="1.3" fill="#6d1116" opacity="0.55"/>
<circle cx="69.0" cy="37.2" r="0.9" fill="#cf4a48" opacity="0.75"/>
<ellipse cx="95.7" cy="66.0" rx="3.0" ry="2.4" fill="#3b4146" opacity="0.45"/>
<line x1="92.0" y1="63.0" x2="94.1" y2="64.0" stroke="#6d1116" stroke-width="2.4" stroke-linecap="round"/>
<polygon points="91.7,66.3 93.3,60.7 97.4,64.9" fill="#b0252b" stroke="#b0252b" stroke-width="1.7" stroke-linejoin="round"/>
<circle cx="95.0" cy="65.1" r="1.3" fill="#6d1116" opacity="0.55"/>
<circle cx="92.9" cy="62.7" r="0.9" fill="#cf4a48" opacity="0.75"/>
<ellipse cx="86.7" cy="75.0" rx="3.0" ry="2.4" fill="#3b4146" opacity="0.45"/>
<line x1="84.1" y1="70.8" x2="85.1" y2="73.0" stroke="#6d1116" stroke-width="2.4" stroke-linecap="round"/>
<polygon points="82.0,74.4 85.5,69.6 87.9,74.9" fill="#9a1a21" stroke="#9a1a21" stroke-width="1.7" stroke-linejoin="round"/>
<circle cx="86.0" cy="74.1" r="1.3" fill="#6d1116" opacity="0.55"/>
<circle cx="83.9" cy="71.7" r="0.9" fill="#cf4a48" opacity="0.75"/>
<ellipse cx="67.5" cy="52.4" rx="3.0" ry="2.4" fill="#3b4146" opacity="0.45"/>
<line x1="67.4" y1="51.1" x2="65.9" y2="50.4" stroke="#6d1116" stroke-width="2.4" stroke-linecap="round"/>
<polygon points="69.0,51.7 63.2,52.4 65.5,47.0" fill="#b52d30" stroke="#b52d30" stroke-width="1.7" stroke-linejoin="round"/>
<circle cx="66.8" cy="51.5" r="1.3" fill="#6d1116" opacity="0.55"/>
<circle cx="64.7" cy="49.1" r="0.9" fill="#cf4a48" opacity="0.75"/>
<ellipse cx="82.0" cy="47.3" rx="3.0" ry="2.4" fill="#3b4146" opacity="0.45"/>
<line x1="80.0" y1="46.7" x2="80.4" y2="45.3" stroke="#6d1116" stroke-width="2.4" stroke-linecap="round"/>
<polygon points="83.8,44.8 79.2,48.5 78.3,42.6" fill="#9a1a21" stroke="#9a1a21" stroke-width="1.7" stroke-linejoin="round"/>
<circle cx="81.3" cy="46.4" r="1.3" fill="#6d1116" opacity="0.55"/>
<circle cx="79.2" cy="44.0" r="0.9" fill="#cf4a48" opacity="0.75"/>
<ellipse cx="73.4" cy="66.0" rx="3.0" ry="2.4" fill="#3b4146" opacity="0.45"/>
<line x1="72.5" y1="63.0" x2="71.8" y2="64.0" stroke="#6d1116" stroke-width="2.4" stroke-linecap="round"/>
<polygon points="68.5,64.9 72.6,60.7 74.2,66.4" fill="#b52d30" stroke="#b52d30" stroke-width="1.7" stroke-linejoin="round"/>
<circle cx="72.7" cy="65.1" r="1.3" fill="#6d1116" opacity="0.55"/>
<circle cx="70.6" cy="62.7" r="0.9" fill="#cf4a48" opacity="0.75"/>
<ellipse cx="84.5" cy="59.7" rx="3.0" ry="2.4" fill="#3b4146" opacity="0.45"/>
<line x1="82.2" y1="57.5" x2="82.9" y2="57.7" stroke="#6d1116" stroke-width="2.4" stroke-linecap="round"/>
<polygon points="85.4,59.9 79.7,58.7 83.7,54.3" fill="#8f181f" stroke="#8f181f" stroke-width="1.7" stroke-linejoin="round"/>
<circle cx="83.8" cy="58.8" r="1.3" fill="#6d1116" opacity="0.55"/>
<circle cx="81.7" cy="56.4" r="0.9" fill="#cf4a48" opacity="0.75"/>
</g>
<g id="logo" transform="translate(605,0) scale(0.12432)">
<rect x="125" y="228" width="150" height="40" fill="#a9a9a9"/>
<rect x="432" y="412" width="138" height="43" fill="#a9a9a9"/>
<path d="M270,82 H445 V110 C445,250 340,410 90,440 V265 H270 Z" fill="#179282"/>
<path d="M270,82 H418 C416,170 385,235 322,268 H270 Z" fill="#127c71"/>
<path d="M610,240 C420,245 280,400 263,575 V600 H435 V415 H610 Z" fill="#179282"/>
<path d="M435,425 C340,440 280,500 263,575 V600 H435 Z" fill="#117a70"/>
</g>
<text xml:space="preserve" x="617.3" y="65.6" font-size="10.6" fill="#938b8e" textLength="18.2" lengthAdjust="spacingAndGlyphs" stroke="#938b8e" stroke-width="0.25">SUS</text>
<text xml:space="preserve" x="621.2" y="68.6" font-size="2.2" fill="#9a9a9a" textLength="12.0" lengthAdjust="spacingAndGlyphs">Sistema Único</text>
<text xml:space="preserve" x="621.2" y="70.5" font-size="2.2" fill="#9a9a9a" textLength="12.0" lengthAdjust="spacingAndGlyphs">de Saúde</text>
<text xml:space="preserve" x="621.2" y="72.4" font-size="2.2" fill="#9a9a9a" textLength="12.0" lengthAdjust="spacingAndGlyphs">Santa Rosa</text>
<text xml:space="preserve" x="616.4" y="90.0" font-size="15.3" font-weight="bold" fill="#17877b" textLength="64.6" lengthAdjust="spacingAndGlyphs" stroke="#17877b" stroke-width="0.7">FUMSSAR</text>
<text xml:space="preserve" x="615.8" y="95.6" font-size="2.4" fill="#9a9a9a" textLength="64.8" lengthAdjust="spacingAndGlyphs">FUNDAÇÃO MUNICIPAL DE SAÚDE - SANTA ROSA/RS</text>
<g id="chart1">
<rect x="25" y="105" width="677" height="352.6" fill="#fff" stroke="#d9e3e8" stroke-width="1.3"/>
<text xml:space="preserve" x="203.4" y="133.7" font-size="20" font-weight="bold" textLength="392.6" lengthAdjust="spacingAndGlyphs" stroke="#000" stroke-width="0.35">Casos confirmados de Covid-19 por semana</text>
<text xml:space="preserve" x="156.7" y="160.7" font-size="20" font-weight="bold" textLength="484.2" lengthAdjust="spacingAndGlyphs" stroke="#000" stroke-width="0.35">epidemiológica de notificação, Santa Rosa, 2020-2021</text>
<text xml:space="preserve" x="61.9" y="405.1" font-size="10.7" text-anchor="end">0</text>
<line x1="72.50" y1="370.70" x2="696.30" y2="370.70" stroke="#e6e6e6" stroke-width="1"/>
<text xml:space="preserve" x="61.9" y="373.6" font-size="10.7" text-anchor="end">100</text>
<line x1="72.50" y1="339.20" x2="696.30" y2="339.20" stroke="#e6e6e6" stroke-width="1"/>
<text xml:space="preserve" x="61.9" y="342.1" font-size="10.7" text-anchor="end">200</text>
<line x1="72.50" y1="307.70" x2="696.30" y2="307.70" stroke="#e6e6e6" stroke-width="1"/>
<text xml:space="preserve" x="61.9" y="310.6" font-size="10.7" text-anchor="end">300</text>
<line x1="72.50" y1="276.20" x2="696.30" y2="276.20" stroke="#e6e6e6" stroke-width="1"/>
<text xml:space="preserve" x="61.9" y="279.1" font-size="10.7" text-anchor="end">400</text>
<line x1="72.50" y1="244.70" x2="696.30" y2="244.70" stroke="#e6e6e6" stroke-width="1"/>
<text xml:space="preserve" x="61.9" y="247.6" font-size="10.7" text-anchor="end">500</text>
<line x1="72.50" y1="213.20" x2="696.30" y2="213.20" stroke="#e6e6e6" stroke-width="1"/>
<text xml:space="preserve" x="61.9" y="216.1" font-size="10.7" text-anchor="end">600</text>
<line x1="72.50" y1="181.70" x2="696.30" y2="181.70" stroke="#e6e6e6" stroke-width="1"/>
<text xml:space="preserve" x="61.9" y="184.6" font-size="10.7" text-anchor="end">700</text>
<line x1="72.50" y1="402.20" x2="696.30" y2="402.20" stroke="#d9d9d9" stroke-width="1"/>
<text transform="translate(39.8,320.6) rotate(-90)" font-size="10.5" font-weight="bold" textLength="57.8" lengthAdjust="spacingAndGlyphs">Nº de casos</text>
<rect x="74.40" y="400.31" width="4.10" height="1.89" fill="#4f81bd" />
<rect x="86.37" y="401.25" width="4.10" height="0.95" fill="#4f81bd" />
<rect x="92.27" y="401.88" width="4.10" height="0.32" fill="#e8141c" />
<rect x="98.34" y="401.57" width="4.10" height="0.63" fill="#4f81bd" />
<rect x="110.31" y="399.68" width="4.10" height="2.52" fill="#4f81bd" />
<rect x="122.28" y="401.25" width="4.10" height="0.95" fill="#4f81bd" />
<rect x="128.18" y="401.88" width="4.10" height="0.32" fill="#e8141c" />
<rect x="134.25" y="400.00" width="4.10" height="2.21" fill="#4f81bd" />
<rect x="146.22" y="398.42" width="4.10" height="3.78" fill="#4f81bd" />
<rect x="158.19" y="396.84" width="4.10" height="5.36" fill="#4f81bd" />
<rect x="170.16" y="392.75" width="4.10" height="9.45" fill="#4f81bd" />
<rect x="182.13" y="391.18" width="4.10" height="11.03" fill="#4f81bd" />
<rect x="194.10" y="388.34" width="4.10" height="13.86" fill="#4f81bd" />
<rect x="200.00" y="401.57" width="4.10" height="0.63" fill="#e8141c" />
<rect x="206.07" y="380.46" width="4.10" height="21.73" fill="#4f81bd" />
<rect x="211.97" y="401.88" width="4.10" height="0.32" fill="#e8141c" />
<rect x="218.04" y="363.45" width="4.10" height="38.74" fill="#4f81bd" />
<rect x="223.94" y="401.25" width="4.10" height="0.95" fill="#e8141c" />
<rect x="230.01" y="359.04" width="4.10" height="43.16" fill="#4f81bd" />
<rect x="241.98" y="350.54" width="4.10" height="51.66" fill="#4f81bd" />
<rect x="247.88" y="401.57" width="4.10" height="0.63" fill="#e8141c" />
<rect x="253.95" y="365.03" width="4.10" height="37.17" fill="#4f81bd" />
<rect x="259.85" y="401.57" width="4.10" height="0.63" fill="#e8141c" />
<rect x="265.92" y="358.41" width="4.10" height="43.79" fill="#4f81bd" />
<rect x="271.82" y="400.94" width="4.10" height="1.26" fill="#e8141c" />
<rect x="277.89" y="360.94" width="4.10" height="41.27" fill="#4f81bd" />
<rect x="283.79" y="400.94" width="4.10" height="1.26" fill="#e8141c" />
<rect x="289.86" y="364.71" width="4.10" height="37.48" fill="#4f81bd" />
<rect x="295.76" y="400.62" width="4.10" height="1.57" fill="#e8141c" />
<rect x="301.83" y="367.55" width="4.10" height="34.65" fill="#4f81bd" />
<rect x="307.73" y="401.88" width="4.10" height="0.32" fill="#e8141c" />
<rect x="313.80" y="368.81" width="4.10" height="33.39" fill="#4f81bd" />
<rect x="319.70" y="401.88" width="4.10" height="0.32" fill="#e8141c" />
<rect x="325.77" y="375.43" width="4.10" height="26.77" fill="#4f81bd" />
<rect x="331.67" y="401.57" width="4.10" height="0.63" fill="#e8141c" />
<rect x="337.74" y="375.43" width="4.10" height="26.77" fill="#4f81bd" />
<rect x="343.64" y="401.57" width="4.10" height="0.63" fill="#e8141c" />
<rect x="349.71" y="378.26" width="4.10" height="23.94" fill="#4f81bd" />
<rect x="355.61" y="401.57" width="4.10" height="0.63" fill="#e8141c" />
<rect x="361.68" y="381.09" width="4.10" height="21.11" fill="#4f81bd" />
<rect x="367.58" y="401.57" width="4.10" height="0.63" fill="#e8141c" />
<rect x="373.65" y="355.58" width="4.10" height="46.62" fill="#4f81bd" />
<rect x="385.62" y="346.76" width="4.10" height="55.44" fill="#4f81bd" />
<rect x="397.59" y="341.09" width="4.10" height="61.11" fill="#4f81bd" />
<rect x="409.56" y="325.65" width="4.10" height="76.55" fill="#4f81bd" />
<rect x="421.53" y="319.67" width="4.10" height="82.53" fill="#4f81bd" />
<rect x="433.50" y="308.96" width="4.10" height="93.24" fill="#4f81bd" />
<rect x="439.40" y="401.57" width="4.10" height="0.63" fill="#e8141c" />
<rect x="445.47" y="295.10" width="4.10" height="107.10" fill="#4f81bd" />
<rect x="451.37" y="401.25" width="4.10" height="0.95" fill="#e8141c" />
<rect x="457.44" y="306.44" width="4.10" height="95.76" fill="#4f81bd" />
<rect x="463.34" y="401.25" width="4.10" height="0.95" fill="#e8141c" />
<rect x="469.41" y="315.89" width="4.10" height="86.31" fill="#4f81bd" />
<rect x="475.31" y="400.94" width="4.10" height="1.26" fill="#e8141c" />
<rect x="481.38" y="308.33" width="4.10" height="93.87" fill="#4f81bd" />
<rect x="487.28" y="400.62" width="4.10" height="1.57" fill="#e8141c" />
<rect x="493.35" y="302.98" width="4.10" height="99.22" fill="#4f81bd" />
<rect x="499.25" y="400.62" width="4.10" height="1.57" fill="#e8141c" />
<rect x="505.32" y="263.28" width="4.10" height="138.91" fill="#4f81bd" />
<rect x="511.22" y="401.88" width="4.10" height="0.32" fill="#e8141c" />
<rect x="517.29" y="294.47" width="4.10" height="107.73" fill="#4f81bd" />
<rect x="523.19" y="401.88" width="4.10" height="0.32" fill="#e8141c" />
<rect x="529.26" y="293.84" width="4.10" height="108.36" fill="#4f81bd" />
<rect x="535.16" y="401.25" width="4.10" height="0.95" fill="#e8141c" />
<rect x="541.23" y="301.08" width="4.10" height="101.11" fill="#4f81bd" />
<rect x="547.13" y="401.25" width="4.10" height="0.95" fill="#e8141c" />
<rect x="553.20" y="289.12" width="4.10" height="113.08" fill="#4f81bd" />
<rect x="559.10" y="401.88" width="4.10" height="0.32" fill="#e8141c" />
<rect x="565.17" y="278.72" width="4.10" height="123.48" fill="#4f81bd" />
<rect x="571.07" y="400.94" width="4.10" height="1.26" fill="#e8141c" />
<rect x="577.14" y="272.42" width="4.10" height="129.78" fill="#4f81bd" />
<rect x="583.04" y="401.88" width="4.10" height="0.32" fill="#e8141c" />
<rect x="589.11" y="237.14" width="4.10" height="165.06" fill="#4f81bd" />
<rect x="595.01" y="401.57" width="4.10" height="0.63" fill="#e8141c" />
<rect x="601.08" y="190.20" width="4.10" height="212.00" fill="#4f81bd" />
<rect x="606.98" y="400.62" width="4.10" height="1.57" fill="#e8141c" />
<rect x="613.05" y="235.56" width="4.10" height="166.63" fill="#4f81bd" />
<rect x="618.95" y="399.68" width="4.10" height="2.52" fill="#e8141c" />
<rect x="625.02" y="269.90" width="4.10" height="132.30" fill="#4f81bd" />
<rect x="630.92" y="399.68" width="4.10" height="2.52" fill="#e8141c" />
<rect x="636.99" y="297.94" width="4.10" height="104.27" fill="#4f81bd" />
<rect x="642.89" y="398.74" width="4.10" height="3.46" fill="#e8141c" />
<rect x="648.96" y="335.74" width="4.10" height="66.47" fill="#4f81bd" />
<rect x="654.86" y="400.31" width="4.10" height="1.89" fill="#e8141c" />
<rect x="660.93" y="329.12" width="4.10" height="73.08" fill="#4f81bd" />
<rect x="666.83" y="401.25" width="4.10" height="0.95" fill="#e8141c" />
<rect x="672.90" y="347.07" width="4.10" height="55.12" fill="#4f81bd" />
<rect x="678.80" y="400.94" width="4.10" height="1.26" fill="#e8141c" />
<rect x="684.87" y="361.88" width="4.10" height="40.32" fill="#4f81bd" />
<rect x="690.77" y="400.31" width="4.10" height="1.89" fill="#e8141c" />
<text xml:space="preserve" x="74.6" y="418.0" font-size="9.3" textLength="9.7" lengthAdjust="spacingAndGlyphs">12</text>
<text xml:space="preserve" x="86.5" y="418.0" font-size="9.3" textLength="9.7" lengthAdjust="spacingAndGlyphs">19</text>
<text xml:space="preserve" x="98.5" y="418.0" font-size="9.3" textLength="9.7" lengthAdjust="spacingAndGlyphs">20</text>
<text xml:space="preserve" x="110.5" y="418.0" font-size="9.3" textLength="9.7" lengthAdjust="spacingAndGlyphs">21</text>
<text xml:space="preserve" x="122.4" y="418.0" font-size="9.3" textLength="9.7" lengthAdjust="spacingAndGlyphs">22</text>
<text xml:space="preserve" x="134.4" y="418.0" font-size="9.3" textLength="9.7" lengthAdjust="spacingAndGlyphs">23</text>
<text xml:space="preserve" x="146.4" y="418.0" font-size="9.3" textLength="9.7" lengthAdjust="spacingAndGlyphs">24</text>
<text xml:space="preserve" x="158.3" y="418.0" font-size="9.3" textLength="9.7" lengthAdjust="spacingAndGlyphs">25</text>
<text xml:space="preserve" x="170.3" y="418.0" font-size="9.3" textLength="9.7" lengthAdjust="spacingAndGlyphs">26</text>
<text xml:space="preserve" x="182.3" y="418.0" font-size="9.3" textLength="9.7" lengthAdjust="spacingAndGlyphs">27</text>
<text xml:space="preserve" x="194.3" y="418.0" font-size="9.3" textLength="9.7" lengthAdjust="spacingAndGlyphs">28</text>
<text xml:space="preserve" x="206.2" y="418.0" font-size="9.3" textLength="9.7" lengthAdjust="spacingAndGlyphs">29</text>
<text xml:space="preserve" x="218.2" y="418.0" font-size="9.3" textLength="9.7" lengthAdjust="spacingAndGlyphs">30</text>
<text xml:space="preserve" x="230.2" y="418.0" font-size="9.3" textLength="9.7" lengthAdjust="spacingAndGlyphs">31</text>
<text xml:space="preserve" x="242.1" y="418.0" font-size="9.3" textLength="9.7" lengthAdjust="spacingAndGlyphs">32</text>
<text xml:space="preserve" x="254.1" y="418.0" font-size="9.3" textLength="9.7" lengthAdjust="spacingAndGlyphs">33</text>
<text xml:space="preserve" x="266.1" y="418.0" font-size="9.3" textLength="9.7" lengthAdjust="spacingAndGlyphs">34</text>
<text xml:space="preserve" x="278.0" y="418.0" font-size="9.3" textLength="9.7" lengthAdjust="spacingAndGlyphs">35</text>
<text xml:space="preserve" x="290.0" y="418.0" font-size="9.3" textLength="9.7" lengthAdjust="spacingAndGlyphs">36</text>
<text xml:space="preserve" x="302.0" y="418.0" font-size="9.3" textLength="9.7" lengthAdjust="spacingAndGlyphs">37</text>
<text xml:space="preserve" x="313.9" y="418.0" font-size="9.3" textLength="9.7" lengthAdjust="spacingAndGlyphs">38</text>
<text xml:space="preserve" x="325.9" y="418.0" font-size="9.3" textLength="9.7" lengthAdjust="spacingAndGlyphs">39</text>
<text xml:space="preserve" x="337.9" y="418.0" font-size="9.3" textLength="9.7" lengthAdjust="spacingAndGlyphs">40</text>
<text xml:space="preserve" x="349.9" y="418.0" font-size="9.3" textLength="9.7" lengthAdjust="spacingAndGlyphs">41</text>
<text xml:space="preserve" x="361.8" y="418.0" font-size="9.3" textLength="9.7" lengthAdjust="spacingAndGlyphs">42</text>
<text xml:space="preserve" x="373.8" y="418.0" font-size="9.3" textLength="9.7" lengthAdjust="spacingAndGlyphs">43</text>
<text xml:space="preserve" x="385.8" y="418.0" font-size="9.3" textLength="9.7" lengthAdjust="spacingAndGlyphs">44</text>
<text xml:space="preserve" x="397.7" y="418.0" font-size="9.3" textLength="9.7" lengthAdjust="spacingAndGlyphs">45</text>
<text xml:space="preserve" x="409.7" y="418.0" font-size="9.3" textLength="9.7" lengthAdjust="spacingAndGlyphs">46</text>
<text xml:space="preserve" x="421.7" y="418.0" font-size="9.3" textLength="9.7" lengthAdjust="spacingAndGlyphs">47</text>
<text xml:space="preserve" x="433.6" y="418.0" font-size="9.3" textLength="9.7" lengthAdjust="spacingAndGlyphs">48</text>
<text xml:space="preserve" x="445.6" y="418.0" font-size="9.3" textLength="9.7" lengthAdjust="spacingAndGlyphs">49</text>
<text xml:space="preserve" x="457.6" y="418.0" font-size="9.3" textLength="9.7" lengthAdjust="spacingAndGlyphs">50</text>
<text xml:space="preserve" x="469.6" y="418.0" font-size="9.3" textLength="9.7" lengthAdjust="spacingAndGlyphs">51</text>
<text xml:space="preserve" x="481.5" y="418.0" font-size="9.3" textLength="9.7" lengthAdjust="spacingAndGlyphs">52</text>
<text xml:space="preserve" x="493.5" y="418.0" font-size="9.3" textLength="9.7" lengthAdjust="spacingAndGlyphs">53</text>
<text xml:space="preserve" x="507.9" y="418.0" font-size="9.3" textLength="4.8" lengthAdjust="spacingAndGlyphs">1</text>
<text xml:space="preserve" x="519.9" y="418.0" font-size="9.3" textLength="4.8" lengthAdjust="spacingAndGlyphs">2</text>
<text xml:space="preserve" x="531.8" y="418.0" font-size="9.3" textLength="4.8" lengthAdjust="spacingAndGlyphs">3</text>
<text xml:space="preserve" x="543.8" y="418.0" font-size="9.3" textLength="4.8" lengthAdjust="spacingAndGlyphs">4</text>
<text xml:space="preserve" x="555.8" y="418.0" font-size="9.3" textLength="4.8" lengthAdjust="spacingAndGlyphs">5</text>
<text xml:space="preserve" x="567.7" y="418.0" font-size="9.3" textLength="4.8" lengthAdjust="spacingAndGlyphs">6</text>
<text xml:space="preserve" x="579.7" y="418.0" font-size="9.3" textLength="4.8" lengthAdjust="spacingAndGlyphs">7</text>
<text xml:space="preserve" x="591.7" y="418.0" font-size="9.3" textLength="4.8" lengthAdjust="spacingAndGlyphs">8</text>
<text xml:space="preserve" x="603.7" y="418.0" font-size="9.3" textLength="4.8" lengthAdjust="spacingAndGlyphs">9</text>
<text xml:space="preserve" x="613.2" y="418.0" font-size="9.3" textLength="9.7" lengthAdjust="spacingAndGlyphs">10</text>
<text xml:space="preserve" x="625.2" y="418.0" font-size="9.3" textLength="9.7" lengthAdjust="spacingAndGlyphs">11</text>
<text xml:space="preserve" x="637.1" y="418.0" font-size="9.3" textLength="9.7" lengthAdjust="spacingAndGlyphs">12</text>
<text xml:space="preserve" x="649.1" y="418.0" font-size="9.3" textLength="9.7" lengthAdjust="spacingAndGlyphs">13</text>
<text xml:space="preserve" x="661.1" y="418.0" font-size="9.3" textLength="9.7" lengthAdjust="spacingAndGlyphs">14</text>
<text xml:space="preserve" x="673.0" y="418.0" font-size="9.3" textLength="9.7" lengthAdjust="spacingAndGlyphs">15</text>
<text xml:space="preserve" x="685.0" y="418.0" font-size="9.3" textLength="9.7" lengthAdjust="spacingAndGlyphs">16</text>
<text xml:space="preserve" x="79.4" y="429.6" font-size="9.3" text-anchor="middle">a</text>
<text xml:space="preserve" x="74.6" y="441.6" font-size="9.3" textLength="9.7" lengthAdjust="spacingAndGlyphs">18</text>
<text xml:space="preserve" x="76.5" y="392.3" font-size="8.8" text-anchor="middle" fill="#111">6</text>
<text xml:space="preserve" x="89.0" y="393.3" font-size="8.8" text-anchor="middle" fill="#111">3</text>
<text xml:space="preserve" x="100.4" y="393.6" font-size="8.8" text-anchor="middle" fill="#111">2</text>
<text xml:space="preserve" x="112.4" y="391.7" font-size="8.8" text-anchor="middle" fill="#111">8</text>
<text xml:space="preserve" x="124.9" y="393.3" font-size="8.8" text-anchor="middle" fill="#111">3</text>
<text xml:space="preserve" x="136.3" y="392.0" font-size="8.8" text-anchor="middle" fill="#111">7</text>
<text xml:space="preserve" x="148.3" y="390.4" font-size="8.8" text-anchor="middle" fill="#111">12</text>
<text xml:space="preserve" x="160.2" y="388.8" font-size="8.8" text-anchor="middle" fill="#111">17</text>
<text xml:space="preserve" x="172.2" y="384.8" font-size="8.8" text-anchor="middle" fill="#111">30</text>
<text xml:space="preserve" x="184.2" y="383.2" font-size="8.8" text-anchor="middle" fill="#111">35</text>
<text xml:space="preserve" x="196.2" y="380.3" font-size="8.8" text-anchor="middle" fill="#111">44</text>
<text xml:space="preserve" x="208.1" y="372.5" font-size="8.8" text-anchor="middle" fill="#111">69</text>
<text xml:space="preserve" x="220.1" y="360.5" font-size="8.8" text-anchor="middle" fill="#111">123</text>
<text xml:space="preserve" x="232.1" y="351.0" font-size="8.8" text-anchor="middle" fill="#111">137</text>
<text xml:space="preserve" x="244.0" y="342.5" font-size="8.8" text-anchor="middle" fill="#111">164</text>
<text xml:space="preserve" x="256.0" y="357.0" font-size="8.2" text-anchor="middle" fill="#111">118</text>
<text xml:space="preserve" x="268.0" y="350.4" font-size="7.6" text-anchor="middle" fill="#111">139</text>
<text xml:space="preserve" x="279.9" y="352.9" font-size="7.6" text-anchor="middle" fill="#111">131</text>
<text xml:space="preserve" x="291.9" y="356.7" font-size="7.6" text-anchor="middle" fill="#111">119</text>
<text xml:space="preserve" x="303.9" y="359.6" font-size="7.6" text-anchor="middle" fill="#111">110</text>
<text xml:space="preserve" x="315.9" y="363.2" font-size="7.6" text-anchor="middle" fill="#111">106</text>
<text xml:space="preserve" x="327.8" y="367.4" font-size="8.2" text-anchor="middle" fill="#111">85</text>
<text xml:space="preserve" x="339.8" y="367.4" font-size="8.2" text-anchor="middle" fill="#111">85</text>
<text xml:space="preserve" x="351.8" y="370.3" font-size="8.2" text-anchor="middle" fill="#111">76</text>
<text xml:space="preserve" x="363.7" y="373.1" font-size="8.2" text-anchor="middle" fill="#111">67</text>
<text xml:space="preserve" x="375.7" y="347.6" font-size="8.8" text-anchor="middle" fill="#111">148</text>
<text xml:space="preserve" x="387.7" y="338.8" font-size="8.8" text-anchor="middle" fill="#111">176</text>
<text xml:space="preserve" x="399.6" y="333.1" font-size="8.8" text-anchor="middle" fill="#111">194</text>
<text xml:space="preserve" x="411.6" y="319.8" font-size="8.8" text-anchor="middle" fill="#111">243</text>
<text xml:space="preserve" x="423.6" y="311.7" font-size="8.8" text-anchor="middle" fill="#111">262</text>
<text xml:space="preserve" x="435.6" y="301.0" font-size="8.8" text-anchor="middle" fill="#111">296</text>
<text xml:space="preserve" x="447.5" y="287.1" font-size="8.8" text-anchor="middle" fill="#111">340</text>
<text xml:space="preserve" x="459.5" y="298.4" font-size="8.8" text-anchor="middle" fill="#111">304</text>
<text xml:space="preserve" x="471.5" y="307.9" font-size="8.8" text-anchor="middle" fill="#111">274</text>
<text xml:space="preserve" x="483.4" y="300.3" font-size="8.8" text-anchor="middle" fill="#111">298</text>
<text xml:space="preserve" x="495.4" y="292.3" font-size="8.8" text-anchor="middle" fill="#111">315</text>
<text xml:space="preserve" x="507.4" y="255.3" font-size="8.8" text-anchor="middle" fill="#111">441</text>
<text xml:space="preserve" x="519.3" y="282.9" font-size="8.8" text-anchor="middle" fill="#111">342</text>
<text xml:space="preserve" x="531.3" y="291.9" font-size="8.8" text-anchor="middle" fill="#111">344</text>
<text xml:space="preserve" x="543.3" y="303.6" font-size="8.8" text-anchor="middle" fill="#111">321</text>
<text xml:space="preserve" x="555.2" y="281.1" font-size="8.8" text-anchor="middle" fill="#111">359</text>
<text xml:space="preserve" x="567.2" y="270.7" font-size="8.8" text-anchor="middle" fill="#111">392</text>
<text xml:space="preserve" x="579.2" y="264.4" font-size="8.8" text-anchor="middle" fill="#111">412</text>
<text xml:space="preserve" x="591.2" y="229.1" font-size="8.8" text-anchor="middle" fill="#111">524</text>
<text xml:space="preserve" x="603.1" y="182.2" font-size="8.8" text-anchor="middle" fill="#111">673</text>
<text xml:space="preserve" x="615.1" y="227.6" font-size="8.8" text-anchor="middle" fill="#111">529</text>
<text xml:space="preserve" x="627.1" y="261.9" font-size="8.8" text-anchor="middle" fill="#111">420</text>
<text xml:space="preserve" x="639.0" y="289.9" font-size="8.8" text-anchor="middle" fill="#111">331</text>
<text xml:space="preserve" x="651.0" y="331.9" font-size="8.8" text-anchor="middle" fill="#111">211</text>
<text xml:space="preserve" x="663.0" y="321.1" font-size="8.8" text-anchor="middle" fill="#111">232</text>
<text xml:space="preserve" x="674.9" y="339.1" font-size="8.8" text-anchor="middle" fill="#111">175</text>
<text xml:space="preserve" x="686.9" y="353.9" font-size="8.8" text-anchor="middle" fill="#111">128</text>
<text xml:space="preserve" x="94.0" y="393.1" font-size="11" text-anchor="middle" fill="#c8242b">1</text>
<text xml:space="preserve" x="129.9" y="393.1" font-size="11" text-anchor="middle" fill="#c8242b">1</text>
<text xml:space="preserve" x="201.7" y="392.8" font-size="11" text-anchor="middle" fill="#c8242b">2</text>
<text xml:space="preserve" x="213.7" y="393.1" font-size="11" text-anchor="middle" fill="#c8242b">1</text>
<text xml:space="preserve" x="225.6" y="392.5" font-size="11" text-anchor="middle" fill="#c8242b">3</text>
<text xml:space="preserve" x="249.6" y="392.8" font-size="11" text-anchor="middle" fill="#c8242b">2</text>
<text xml:space="preserve" x="261.6" y="392.8" font-size="11" text-anchor="middle" fill="#c8242b">2</text>
<text xml:space="preserve" x="273.5" y="392.1" font-size="11" text-anchor="middle" fill="#c8242b">4</text>
<text xml:space="preserve" x="285.5" y="392.1" font-size="11" text-anchor="middle" fill="#c8242b">4</text>
<text xml:space="preserve" x="297.5" y="391.8" font-size="11" text-anchor="middle" fill="#c8242b">5</text>
<text xml:space="preserve" x="309.4" y="393.1" font-size="11" text-anchor="middle" fill="#c8242b">1</text>
<text xml:space="preserve" x="321.4" y="393.1" font-size="11" text-anchor="middle" fill="#c8242b">1</text>
<text xml:space="preserve" x="333.4" y="392.8" font-size="11" text-anchor="middle" fill="#c8242b">2</text>
<text xml:space="preserve" x="345.3" y="392.8" font-size="11" text-anchor="middle" fill="#c8242b">2</text>
<text xml:space="preserve" x="357.3" y="392.8" font-size="11" text-anchor="middle" fill="#c8242b">2</text>
<text xml:space="preserve" x="369.3" y="392.8" font-size="11" text-anchor="middle" fill="#c8242b">2</text>
<text xml:space="preserve" x="441.1" y="392.8" font-size="11" text-anchor="middle" fill="#c8242b">2</text>
<text xml:space="preserve" x="453.1" y="392.5" font-size="11" text-anchor="middle" fill="#c8242b">3</text>
<text xml:space="preserve" x="465.0" y="392.5" font-size="11" text-anchor="middle" fill="#c8242b">3</text>
<text xml:space="preserve" x="477.0" y="392.1" font-size="11" text-anchor="middle" fill="#c8242b">4</text>
<text xml:space="preserve" x="489.0" y="391.8" font-size="11" text-anchor="middle" fill="#c8242b">5</text>
<text xml:space="preserve" x="501.0" y="391.8" font-size="11" text-anchor="middle" fill="#c8242b">5</text>
<text xml:space="preserve" x="512.9" y="393.1" font-size="11" text-anchor="middle" fill="#c8242b">1</text>
<text xml:space="preserve" x="524.9" y="393.1" font-size="11" text-anchor="middle" fill="#c8242b">1</text>
<text xml:space="preserve" x="536.9" y="392.5" font-size="11" text-anchor="middle" fill="#c8242b">3</text>
<text xml:space="preserve" x="548.8" y="392.5" font-size="11" text-anchor="middle" fill="#c8242b">3</text>
<text xml:space="preserve" x="560.8" y="393.1" font-size="11" text-anchor="middle" fill="#c8242b">1</text>
<text xml:space="preserve" x="575.2" y="392.1" font-size="11" text-anchor="middle" fill="#c8242b">4</text>
<text xml:space="preserve" x="583.5" y="393.1" font-size="11" text-anchor="middle" fill="#c8242b">1</text>
<text xml:space="preserve" x="596.7" y="392.8" font-size="11" text-anchor="middle" fill="#c8242b">2</text>
<text xml:space="preserve" x="608.7" y="391.8" font-size="11" text-anchor="middle" fill="#c8242b">5</text>
<text xml:space="preserve" x="620.6" y="390.9" font-size="11" text-anchor="middle" fill="#c8242b">8</text>
<text xml:space="preserve" x="632.6" y="390.9" font-size="11" text-anchor="middle" fill="#c8242b">8</text>
<text xml:space="preserve" x="644.6" y="389.9" font-size="11" text-anchor="middle" fill="#c8242b">11</text>
<text xml:space="preserve" x="656.6" y="391.5" font-size="11" text-anchor="middle" fill="#c8242b">6</text>
<text xml:space="preserve" x="668.5" y="392.5" font-size="11" text-anchor="middle" fill="#c8242b">3</text>
<text xml:space="preserve" x="680.5" y="392.1" font-size="11" text-anchor="middle" fill="#c8242b">4</text>
<text xml:space="preserve" x="692.5" y="391.5" font-size="11" text-anchor="middle" fill="#c8242b">6</text>
<text xml:space="preserve" x="244.8" y="441.2" font-size="10.7" font-weight="bold" textLength="119.3" lengthAdjust="spacingAndGlyphs">Semana epidemiológica</text>
<rect x="452.50" y="436.30" width="4.80" height="4.80" fill="#4f81bd" />
<text xml:space="preserve" x="460.3" y="441.5" font-size="8.3" textLength="82.7" lengthAdjust="spacingAndGlyphs">Nº DE CASOS NOVOS</text>
<rect x="588.20" y="436.30" width="4.80" height="4.80" fill="#e8141c" />
<text xml:space="preserve" x="595.7" y="441.5" font-size="8.3" textLength="29.9" lengthAdjust="spacingAndGlyphs">OBITOS</text>
<rect x="112.9" y="186.3" width="205.5" height="88.8" fill="#dbe5f1" stroke="#262626" stroke-width="1.2"/>
<text xml:space="preserve" x="122.9" y="202.9" font-size="10.8" font-style="italic" fill="#111" textLength="172.1" lengthAdjust="spacingAndGlyphs">* Os dados são parciais e sujeitos a</text>
<text xml:space="preserve" x="122.4" y="219.9" font-size="10.8" font-style="italic" fill="#111" textLength="167.2" lengthAdjust="spacingAndGlyphs">alterações. Há inúmeras amostras</text>
<text xml:space="preserve" x="122.4" y="236.7" font-size="10.8" font-style="italic" fill="#111" textLength="112.5" lengthAdjust="spacingAndGlyphs">aguardando resultado.</text>
<text xml:space="preserve" x="122.4" y="265.7" font-size="10.8" font-style="italic" fill="#111" textLength="176.3" lengthAdjust="spacingAndGlyphs">Semana 16: 18/04/21 a 24/04/2021</text>
</g>
<g id="mid">
<line x1="25.30" y1="459.70" x2="25.30" y2="998.90" stroke="#8a9ccc" stroke-width="1.5"/>
<line x1="702.10" y1="459.70" x2="702.10" y2="998.90" stroke="#a9b4cc" stroke-width="1.9"/>
<line x1="24.60" y1="460.30" x2="703.00" y2="460.30" stroke="#8a9ccc" stroke-width="1.3"/>
<line x1="24.60" y1="698.90" x2="703.00" y2="698.90" stroke="#8a9ccc" stroke-width="1.5"/>
<line x1="24.60" y1="998.30" x2="703.00" y2="998.30" stroke="#a3b4d8" stroke-width="1.5"/>
<line x1="379.20" y1="460.30" x2="379.20" y2="698.80" stroke="#8a9ccc" stroke-width="1.6"/>
<text xml:space="preserve" x="97.6" y="484.9" font-size="20" font-weight="bold" textLength="205.6" lengthAdjust="spacingAndGlyphs" stroke="#000" stroke-width="0.35">Classificação dos casos</text>
<circle cx="133.6" cy="596" r="93.0" fill="#c0504d"/>
<path d="M133.6,596 L58.04,541.10 A93.4,93.4 0 0 1 160.30,506.50 Z" fill="#4f81bd"/>
<path d="M133.6,596 L160.30,506.50 A93.4,93.4 0 1 1 47.78,559.15 Z" fill="#c0504d"/>
<path d="M133.6,596 L47.78,559.15 A93.4,93.4 0 0 1 58.04,541.10 Z" fill="#9bbb59"/>
<text xml:space="preserve" x="86.7" y="529.9" font-size="11.3" fill="#111" textLength="52.7" lengthAdjust="spacingAndGlyphs">2.036  20%</text>
<text xml:space="preserve" x="38.7" y="551.8" font-size="11.3" fill="#111" textLength="37.3" lengthAdjust="spacingAndGlyphs">368  3%</text>
<text xml:space="preserve" x="120.7" y="654.6" font-size="11.3" fill="#111" textLength="53.4" lengthAdjust="spacingAndGlyphs">7.976  77%</text>
<rect x="258.30" y="547.90" width="6.60" height="6.60" fill="#4f81bd" />
<text xml:space="preserve" x="267.9" y="554.9" font-size="10.7" fill="#111" textLength="89.0" lengthAdjust="spacingAndGlyphs">ASSINTOMATICOS</text>
<rect x="258.30" y="592.90" width="6.60" height="6.60" fill="#c0504d" />
<text xml:space="preserve" x="267.9" y="599.6" font-size="10.7" fill="#111" textLength="92.8" lengthAdjust="spacingAndGlyphs">SINDROME GRIPAL</text>
<rect x="258.30" y="637.80" width="6.60" height="6.60" fill="#9bbb59" />
<text xml:space="preserve" x="267.9" y="644.4" font-size="10.7" fill="#111" textLength="26.5" lengthAdjust="spacingAndGlyphs">SRAG</text>
<text xml:space="preserve" x="465.4" y="483.9" font-size="20" font-weight="bold" textLength="189.8" lengthAdjust="spacingAndGlyphs" stroke="#000" stroke-width="0.35">Distribuição por sexo</text>
<circle cx="533" cy="592.5" r="89.19999999999999" fill="#c0504d"/>
<path d="M533,592.5 L533.00,682.10 A89.6,89.6 0 1 1 553.69,505.32 Z" fill="#4f81bd"/>
<path d="M533,592.5 L553.69,505.32 A89.6,89.6 0 0 1 533.00,682.10 Z" fill="#c0504d"/>
<text xml:space="preserve" x="450.5" y="585.7" font-size="11.3" fill="#111" textLength="51.7" lengthAdjust="spacingAndGlyphs">5575; 54%</text>
<text xml:space="preserve" x="563.5" y="607.5" font-size="11.3" fill="#111" textLength="51.1" lengthAdjust="spacingAndGlyphs">4805; 46%</text>
<rect x="447.50" y="671.00" width="5.60" height="5.60" fill="#4f81bd" />
<text xml:space="preserve" x="456.4" y="676.7" font-size="10.7" fill="#111" textLength="51.0" lengthAdjust="spacingAndGlyphs">FEMININO</text>
<rect x="568.30" y="671.00" width="5.60" height="5.60" fill="#c0504d" />
<text xml:space="preserve" x="576.8" y="676.7" font-size="10.7" fill="#111" textLength="61.2" lengthAdjust="spacingAndGlyphs">MASCULINO</text>
</g>
<g id="bottom">
<text xml:space="preserve" x="150.0" y="728.8" font-size="20" font-weight="bold" textLength="393.2" lengthAdjust="spacingAndGlyphs" stroke="#000" stroke-width="0.35">Casos confirmados e óbitos  por faixa etária</text>
<line x1="236.52" y1="737.90" x2="236.52" y2="964.40" stroke="#dfe3ea" stroke-width="1"/>
<line x1="344.44" y1="737.90" x2="344.44" y2="964.40" stroke="#dfe3ea" stroke-width="1"/>
<line x1="452.36" y1="737.90" x2="452.36" y2="964.40" stroke="#dfe3ea" stroke-width="1"/>
<line x1="560.28" y1="737.90" x2="560.28" y2="964.40" stroke="#dfe3ea" stroke-width="1"/>
<rect x="128.60" y="743.68" width="6.48" height="6.60" fill="#ff0000" />
<rect x="128.60" y="750.68" width="35.40" height="6.80" fill="#4f81bd" />
<text xml:space="preserve" x="117.4" y="753.7" font-size="10.7" text-anchor="end" fill="#111">80 anos e mais</text>
<text xml:space="preserve" x="143.1" y="750.8" font-size="10.7" fill="#111">30</text>
<text xml:space="preserve" x="172.6" y="758.0" font-size="10.7" fill="#111">164</text>
<rect x="128.60" y="768.85" width="7.77" height="6.60" fill="#ff0000" />
<rect x="128.60" y="775.85" width="85.04" height="6.80" fill="#4f81bd" />
<text xml:space="preserve" x="117.4" y="778.9" font-size="10.7" text-anchor="end" fill="#111">70 a 79 anos</text>
<text xml:space="preserve" x="144.4" y="775.9" font-size="10.7" fill="#111">36</text>
<text xml:space="preserve" x="222.2" y="783.1" font-size="10.7" fill="#111">394</text>
<rect x="128.60" y="794.02" width="6.48" height="6.60" fill="#ff0000" />
<rect x="128.60" y="801.02" width="172.46" height="6.80" fill="#4f81bd" />
<text xml:space="preserve" x="117.4" y="804.0" font-size="10.7" text-anchor="end" fill="#111">60 a 69 anos</text>
<text xml:space="preserve" x="143.1" y="801.1" font-size="10.7" fill="#111">30</text>
<text xml:space="preserve" x="309.7" y="808.3" font-size="10.7" fill="#111">799</text>
<rect x="128.60" y="819.18" width="2.16" height="6.60" fill="#ff0000" />
<rect x="128.60" y="826.18" width="294.41" height="6.80" fill="#4f81bd" />
<text xml:space="preserve" x="117.4" y="829.2" font-size="10.7" text-anchor="end" fill="#111">50 a 59 anos</text>
<text xml:space="preserve" x="138.8" y="826.3" font-size="10.7" fill="#111">10</text>
<text xml:space="preserve" x="431.6" y="833.5" font-size="10.7" fill="#111">1364</text>
<rect x="128.60" y="844.35" width="2.37" height="6.60" fill="#ff0000" />
<rect x="128.60" y="851.35" width="394.77" height="6.80" fill="#4f81bd" />
<text xml:space="preserve" x="117.4" y="854.4" font-size="10.7" text-anchor="end" fill="#111">40 a 49 anos</text>
<text xml:space="preserve" x="139.0" y="851.4" font-size="10.7" fill="#111">11</text>
<text xml:space="preserve" x="532.0" y="858.6" font-size="10.7" fill="#111">1829</text>
<rect x="128.60" y="869.52" width="1.51" height="6.60" fill="#ff0000" />
<rect x="128.60" y="876.52" width="493.19" height="6.80" fill="#4f81bd" />
<text xml:space="preserve" x="117.4" y="879.5" font-size="10.7" text-anchor="end" fill="#111">30 a 39 anos</text>
<text xml:space="preserve" x="138.1" y="876.6" font-size="10.7" fill="#111">7</text>
<text xml:space="preserve" x="630.4" y="883.8" font-size="10.7" fill="#111">2285</text>
<rect x="128.60" y="901.68" width="417.43" height="6.80" fill="#4f81bd" />
<text xml:space="preserve" x="117.4" y="904.7" font-size="10.7" text-anchor="end" fill="#111">20 a 29 anos</text>
<text xml:space="preserve" x="136.6" y="901.8" font-size="10.7" fill="#111">0</text>
<text xml:space="preserve" x="554.6" y="909.0" font-size="10.7" fill="#111">1934</text>
<rect x="128.60" y="926.85" width="158.43" height="6.80" fill="#4f81bd" />
<text xml:space="preserve" x="117.4" y="929.9" font-size="10.7" text-anchor="end" fill="#111">10 a 19 anos</text>
<text xml:space="preserve" x="136.6" y="926.9" font-size="10.7" fill="#111">0</text>
<text xml:space="preserve" x="295.6" y="934.1" font-size="10.7" fill="#111">734</text>
<rect x="128.60" y="952.02" width="189.29" height="6.80" fill="#4f81bd" />
<text xml:space="preserve" x="117.4" y="955.0" font-size="10.7" text-anchor="end" fill="#111">&lt; 10 anos</text>
<text xml:space="preserve" x="136.6" y="952.1" font-size="10.7" fill="#111">0</text>
<text xml:space="preserve" x="326.5" y="959.3" font-size="10.7" fill="#111">877</text>
<rect x="128.6" y="737.9" width="539.6" height="226.5" fill="none" stroke="#b5b5b5" stroke-width="1.5"/>
<text xml:space="preserve" x="128.6" y="984.0" font-size="10.7" text-anchor="middle" fill="#111">0</text>
<text xml:space="preserve" x="236.5" y="984.0" font-size="10.7" text-anchor="middle" fill="#111">500</text>
<text xml:space="preserve" x="344.4" y="984.0" font-size="10.7" text-anchor="middle" fill="#111">1000</text>
<text xml:space="preserve" x="452.4" y="984.0" font-size="10.7" text-anchor="middle" fill="#111">1500</text>
<text xml:space="preserve" x="560.3" y="984.0" font-size="10.7" text-anchor="middle" fill="#111">2000</text>
<text xml:space="preserve" x="668.2" y="984.0" font-size="10.7" text-anchor="middle" fill="#111">2500</text>
</g>
</svg>
</body></html>
